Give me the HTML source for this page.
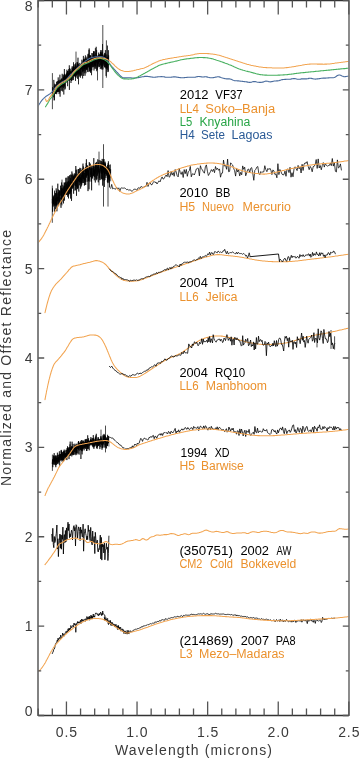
<!DOCTYPE html>
<html><head><meta charset="utf-8"><style>
html,body{margin:0;padding:0;background:#fff;width:359px;height:759px;overflow:hidden}
svg{display:block;will-change:transform}
</style></head><body>
<svg width="359" height="759" viewBox="0 0 359 759">
<g fill="none" stroke-linejoin="round" stroke-linecap="round">
<path d="M52.4 73.5 V108.8 M76.0 52.0 V66.0 M102.8 25.4 V87.6 M106.4 40.7 V77.3 M97.5 62.0 V80.0 M52.3 186.0 V222.4 M103.5 144.6 V206.2 M108.0 175.0 V206.2 M99.0 152.0 V185.0 M62.0 180.0 V205.0 M52.4 455.0 V470.5 M105.5 426.0 V452.0 M101.0 430.0 V447.0 M334.6 336.7 V349.2 M331.0 330.4 V348.5 M317.0 334.0 V347.0" stroke="#000" stroke-width="0.7"/>
<path d="M52.3 94.5L52.4 96.5L52.4 94.3L52.5 87.2L52.6 96.7L52.6 94.6L52.7 90.3L52.7 95.1L52.8 94.1L52.9 93.8L52.9 92.6L53.0 94.7L53.1 89.1L53.1 91.6L53.2 90.1L53.2 94.7L53.3 92.3L53.4 90.8L53.4 88.6L53.5 90.8L53.6 91.9L53.6 90.6L53.7 97.3L53.7 96.0L53.8 79.9L53.9 83.4L53.9 90.8L54.0 89.6L54.1 92.3L54.1 92.3L54.2 100.5L54.2 86.4L54.3 89.5L54.4 100.0L54.4 93.9L54.5 93.9L54.6 88.7L54.6 83.7L54.7 91.5L54.7 91.2L54.8 85.4L54.9 87.7L54.9 90.3L55.0 86.4L55.1 90.0L55.1 90.8L55.2 90.5L55.2 88.1L55.3 92.8L55.4 94.0L55.4 91.5L55.5 86.5L55.6 93.1L55.6 87.7L55.7 93.7L55.7 85.1L55.8 93.7L55.9 89.6L55.9 84.2L56.0 88.2L56.1 89.7L56.1 90.6L56.2 85.1L56.2 84.5L56.3 90.1L56.4 87.1L56.4 90.1L56.5 92.3L56.6 81.8L56.6 90.0L56.7 94.2L56.7 87.5L56.8 85.2L56.9 91.9L56.9 89.7L57.0 92.4L57.1 87.0L57.1 81.9L57.2 87.9L57.2 86.3L57.3 91.6L57.4 89.0L57.4 81.0L57.5 82.8L57.6 91.8L57.6 90.9L57.7 85.0L57.7 87.8L57.8 89.6L57.9 89.7L57.9 91.4L58.0 88.6L58.1 87.0L58.1 86.3L58.2 91.9L58.2 77.4L58.3 86.6L58.4 87.3L58.4 80.8L58.5 88.5L58.6 84.1L58.6 90.7L58.7 86.3L58.7 89.7L58.8 92.0L58.9 88.3L58.9 82.7L59.0 79.9L59.1 94.1L59.1 85.9L59.2 83.3L59.2 86.9L59.3 85.4L59.4 89.9L59.4 86.2L59.5 86.1L59.6 82.8L59.6 87.9L59.7 81.3L59.7 88.7L59.8 92.4L59.9 78.9L59.9 74.7L60.0 88.2L60.1 96.7L60.1 81.0L60.2 79.8L60.2 87.8L60.3 81.5L60.4 82.9L60.4 83.5L60.5 87.3L60.6 83.1L60.6 86.1L60.7 84.0L60.8 81.0L60.8 83.3L60.9 80.4L60.9 84.6L61.0 79.5L61.1 79.6L61.1 90.8L61.2 84.1L61.3 84.0L61.3 86.4L61.4 82.2L61.4 83.0L61.5 85.8L61.6 85.1L61.6 78.7L61.7 87.4L61.8 81.1L61.8 79.0L61.9 79.6L61.9 81.8L62.0 90.6L62.1 78.2L62.1 84.0L62.2 73.8L62.3 83.2L62.3 87.1L62.4 82.0L62.4 80.2L62.5 84.0L62.6 86.0L62.6 85.7L62.7 91.5L62.8 83.6L62.8 80.0L62.9 82.0L62.9 82.2L63.0 82.9L63.1 82.2L63.1 83.1L63.2 74.8L63.3 85.9L63.3 79.6L63.4 76.8L63.4 84.8L63.5 87.8L63.6 84.1L63.6 82.5L63.7 77.6L63.8 94.5L63.8 85.5L63.9 76.5L63.9 78.0L64.0 81.8L64.1 74.5L64.1 82.1L64.2 79.2L64.3 86.7L64.3 85.4L64.4 69.0L64.4 81.2L64.5 73.8L64.6 85.9L64.6 81.6L64.7 83.2L64.8 76.0L64.8 88.8L64.9 89.6L64.9 75.8L65.0 82.2L65.1 77.4L65.1 80.3L65.2 74.7L65.3 88.6L65.3 75.9L65.4 78.8L65.4 82.3L65.5 77.1L65.6 78.9L65.6 77.4L65.7 79.2L65.8 74.6L65.8 77.8L65.9 78.7L65.9 78.1L66.0 79.8L66.1 78.2L66.1 82.8L66.2 77.9L66.3 78.7L66.3 76.3L66.4 76.8L66.4 73.5L66.5 81.4L66.6 73.9L66.6 75.6L66.7 80.5L66.8 80.6L66.8 77.0L66.9 69.7L66.9 80.5L67.0 79.8L67.1 72.2L67.1 81.9L67.2 75.3L67.3 73.3L67.3 78.7L67.4 77.4L67.4 79.1L67.5 70.9L67.6 86.2L67.6 75.3L67.7 71.0L67.8 80.7L67.8 76.2L67.9 79.2L67.9 76.2L68.0 77.4L68.1 78.7L68.1 74.2L68.2 80.5L68.3 75.3L68.3 73.4L68.4 77.7L68.5 79.3L68.5 76.2L68.6 73.2L68.6 79.9L68.7 69.1L68.8 72.3L68.8 77.1L68.9 70.7L69.0 76.9L69.0 76.5L69.1 80.7L69.1 72.5L69.2 73.7L69.3 78.0L69.3 65.3L69.4 89.9L69.5 73.2L69.5 73.0L69.6 80.1L69.6 76.0L69.7 68.0L69.8 78.9L69.8 79.8L69.9 73.9L70.0 74.6L70.0 78.0L70.1 71.6L70.1 77.7L70.2 76.5L70.3 72.5L70.3 69.2L70.4 74.4L70.5 71.4L70.5 79.9L70.6 75.9L70.6 78.8L70.7 75.8L70.8 76.3L70.8 71.5L70.9 78.0L71.0 83.0L71.0 73.5L71.1 72.1L71.1 74.1L71.2 72.5L71.3 71.5L71.3 75.2L71.4 73.2L71.5 81.0L71.5 74.4L71.6 75.8L71.6 78.6L71.7 72.9L71.8 80.7L71.8 71.3L71.9 70.4L72.0 72.4L72.0 73.5L72.1 67.6L72.1 73.7L72.2 66.2L72.3 80.1L72.3 73.3L72.4 70.7L72.5 69.5L72.5 71.8L72.6 72.5L72.6 68.7L72.7 69.2L72.8 72.5L72.8 70.9L72.9 77.5L73.0 78.4L73.0 73.2L73.1 75.2L73.1 66.9L73.2 75.9L73.3 72.8L73.3 75.1L73.4 80.1L73.5 62.3L73.5 73.9L73.6 67.6L73.6 75.3L73.7 66.5L73.8 70.2L73.8 73.4L73.9 75.2L74.0 72.7L74.0 68.7L74.1 69.7L74.1 76.2L74.2 72.1L74.3 64.4L74.3 75.9L74.4 73.9L74.5 75.9L74.5 70.3L74.6 75.6L74.6 66.9L74.7 74.3L74.8 69.4L74.8 74.7L74.9 76.2L75.0 68.2L75.0 71.2L75.1 71.6L75.1 76.8L75.2 74.6L75.3 65.7L75.3 73.3L75.4 74.6L75.5 80.9L75.5 63.4L75.6 68.6L75.6 77.1L75.7 64.7L75.8 65.4L75.8 73.2L75.9 75.5L76.0 67.7L76.0 73.2L76.1 71.2L76.1 77.6L76.2 70.6L76.3 75.1L76.3 66.3L76.4 69.6L76.5 70.0L76.5 75.6L76.6 73.0L76.7 66.8L76.7 73.4L76.8 73.7L76.8 69.6L76.9 68.9L77.0 69.2L77.0 62.2L77.1 70.8L77.2 71.0L77.2 65.9L77.3 73.3L77.3 63.5L77.4 67.2L77.5 67.5L77.5 78.8L77.6 62.2L77.7 72.2L77.7 73.9L77.8 71.2L77.8 74.9L77.9 64.8L78.0 57.7L78.0 72.9L78.1 63.8L78.2 67.7L78.2 63.7L78.3 74.0L78.3 73.1L78.4 65.7L78.5 84.3L78.5 69.6L78.6 68.3L78.7 69.2L78.7 67.9L78.8 71.7L78.8 70.2L78.9 67.1L79.0 73.4L79.0 65.8L79.1 70.0L79.2 70.5L79.2 75.4L79.3 66.2L79.3 76.6L79.4 69.2L79.5 67.5L79.5 65.2L79.6 69.3L79.7 68.5L79.7 63.1L79.8 62.9L79.8 65.6L79.9 65.0L80.0 73.1L80.0 74.4L80.1 72.0L80.2 69.6L80.2 65.9L80.3 68.1L80.3 71.9L80.4 77.7L80.5 72.0L80.5 66.4L80.6 67.8L80.7 65.4L80.7 63.9L80.8 66.7L80.8 68.4L80.9 76.0L81.0 67.7L81.0 73.7L81.1 75.6L81.2 67.7L81.2 74.8L81.3 70.6L81.3 65.3L81.4 68.4L81.5 67.2L81.5 66.0L81.6 66.1L81.7 67.7L81.7 69.0L81.8 62.8L81.8 66.9L81.9 59.7L82.0 68.0L82.0 69.7L82.1 67.5L82.2 68.0L82.2 69.4L82.3 63.5L82.3 65.5L82.4 68.9L82.5 71.2L82.5 68.3L82.6 78.4L82.7 66.0L82.7 71.0L82.8 72.3L82.8 65.7L82.9 62.4L83.0 60.7L83.0 66.9L83.1 71.3L83.2 67.4L83.2 66.9L83.3 64.2L83.3 68.6L83.4 55.9L83.5 67.0L83.5 66.0L83.6 59.4L83.7 76.0L83.7 59.2L83.8 60.7L83.8 60.0L83.9 70.9L84.0 61.4L84.0 68.7L84.1 68.3L84.2 66.7L84.2 59.3L84.3 62.5L84.3 73.3L84.4 59.3L84.5 61.4L84.5 64.5L84.6 69.0L84.7 66.4L84.7 68.7L84.8 60.1L84.9 69.5L84.9 67.7L85.0 57.5L85.0 72.2L85.1 75.7L85.2 61.3L85.2 65.1L85.3 71.4L85.4 57.8L85.4 55.4L85.5 58.6L85.5 62.0L85.6 61.9L85.7 67.5L85.7 65.8L85.8 58.6L85.9 67.2L85.9 73.3L86.0 70.1L86.0 69.0L86.1 64.4L86.2 68.9L86.2 59.7L86.3 67.7L86.4 63.7L86.4 69.5L86.5 66.3L86.5 58.9L86.6 64.6L86.7 69.7L86.7 58.6L86.8 61.2L86.9 60.2L86.9 56.7L87.0 68.3L87.0 69.9L87.1 67.5L87.2 64.8L87.2 63.4L87.3 64.7L87.4 60.1L87.4 67.7L87.5 68.4L87.5 67.8L87.6 60.9L87.7 63.7L87.7 62.5L87.8 71.8L87.9 64.1L87.9 54.3L88.0 65.1L88.0 72.1L88.1 66.4L88.2 67.3L88.2 63.2L88.3 53.7L88.4 54.4L88.4 57.1L88.5 62.4L88.5 64.4L88.6 66.2L88.7 61.3L88.7 67.4L88.8 61.5L88.9 59.5L88.9 66.9L89.0 58.4L89.0 49.8L89.1 57.7L89.2 63.2L89.2 48.4L89.3 61.0L89.4 61.1L89.4 55.9L89.5 55.6L89.5 71.3L89.6 60.0L89.7 68.6L89.7 69.0L89.8 55.0L89.9 58.5L89.9 65.9L90.0 71.6L90.0 64.3L90.1 64.0L90.2 71.3L90.2 62.3L90.3 60.9L90.4 55.7L90.4 59.9L90.5 72.8L90.5 55.6L90.6 62.4L90.7 55.6L90.7 62.9L90.8 66.6L90.9 61.1L90.9 65.8L91.0 65.7L91.0 64.4L91.1 70.5L91.2 66.0L91.2 60.7L91.3 58.9L91.4 58.1L91.4 64.4L91.5 60.6L91.5 75.2L91.6 71.0L91.7 61.1L91.7 60.5L91.8 70.2L91.9 53.0L91.9 59.9L92.0 65.4L92.0 57.7L92.1 59.7L92.2 60.3L92.2 65.2L92.3 62.7L92.4 63.9L92.4 64.8L92.5 62.1L92.5 67.3L92.6 58.4L92.7 55.0L92.7 53.4L92.8 54.1L92.9 59.2L92.9 66.8L93.0 62.7L93.1 59.0L93.1 56.7L93.2 59.3L93.2 59.9L93.3 61.3L93.4 54.9L93.4 59.5L93.5 66.7L93.6 51.3L93.6 60.6L93.7 51.5L93.7 62.6L93.8 58.1L93.9 51.7L93.9 62.2L94.0 70.5L94.1 62.2L94.1 67.3L94.2 61.3L94.2 51.3L94.3 64.0L94.4 59.6L94.4 54.6L94.5 65.4L94.6 63.0L94.6 59.1L94.7 65.8L94.7 57.4L94.8 64.7L94.9 57.0L94.9 64.2L95.0 56.2L95.1 68.8L95.1 62.8L95.2 68.5L95.2 57.5L95.3 59.2L95.4 65.6L95.4 48.2L95.5 56.3L95.6 66.5L95.6 63.7L95.7 66.2L95.7 60.0L95.8 64.2L95.9 57.9L95.9 54.8L96.0 53.2L96.1 58.7L96.1 58.7L96.2 58.3L96.2 46.8L96.3 51.7L96.4 58.8L96.4 62.8L96.5 58.6L96.6 57.1L96.6 50.1L96.7 71.2L96.7 56.0L96.8 69.5L96.9 68.9L96.9 62.6L97.0 58.5L97.1 61.9L97.1 55.7L97.2 62.5L97.2 61.3L97.3 63.9L97.4 65.9L97.4 69.7L97.5 59.4L97.6 66.3L97.6 57.4L97.7 56.9L97.7 58.2L97.8 56.4L97.9 66.0L97.9 65.7L98.0 67.4L98.1 61.1L98.1 62.5L98.2 58.3L98.2 55.5L98.3 63.3L98.4 62.5L98.4 55.7L98.5 64.0L98.6 52.6L98.6 60.3L98.7 58.0L98.7 58.5L98.8 55.8L98.9 65.8L98.9 63.9L99.0 66.9L99.1 61.7L99.1 54.7L99.2 59.2L99.2 55.2L99.3 63.2L99.4 66.9L99.4 62.6L99.5 58.0L99.6 59.2L99.6 62.0L99.7 53.9L99.7 61.7L99.8 61.9L99.9 58.3L99.9 58.9L100.0 61.8L100.1 56.9L100.1 56.9L100.2 64.7L100.2 62.0L100.3 69.1L100.4 56.0L100.4 52.1L100.5 65.5L100.6 65.5L100.6 57.2L100.7 53.6L100.8 60.6L100.8 52.2L100.9 59.1L100.9 50.1L101.0 59.6L101.1 50.4L101.1 59.6L101.2 68.2L101.3 59.4L101.3 64.5L101.4 57.6L101.4 56.4L101.5 53.4L101.6 65.8L101.6 60.4L101.7 68.7L101.8 54.9L101.8 59.6L101.9 61.1L101.9 67.6L102.0 69.7L102.1 57.5L102.1 55.1L102.2 52.1L102.3 67.2L102.3 60.2L102.4 57.5L102.4 60.4L102.5 44.0L102.6 52.1L102.6 65.3L102.7 62.6L102.8 61.4L102.8 55.7L102.9 63.5L102.9 69.4L103.0 54.6L103.1 60.7L103.1 58.5L103.2 62.4L103.3 60.7L103.3 59.9L103.4 56.3L103.4 60.5L103.5 57.6L103.6 59.9L103.6 60.3L103.7 63.9L103.8 57.7L103.8 59.0L103.9 65.9L103.9 59.5L104.0 59.3L104.1 64.9L104.1 62.0L104.2 61.1L104.3 61.7L104.3 54.5L104.4 62.9L104.4 67.2L104.5 63.5L104.6 52.9L104.6 62.1L104.7 56.2L104.8 59.5L104.8 61.3L104.9 54.8L104.9 67.3L105.0 60.4L105.1 64.6L105.1 63.9L105.2 67.4L105.3 66.6L105.3 53.4L105.4 60.9L105.4 50.1L105.5 58.5L105.6 64.3L105.6 65.3L105.7 67.2L105.8 58.9L105.8 62.3L105.9 61.2L105.9 67.1L106.0 68.7L106.1 59.0L106.1 75.9L106.2 60.8L106.3 59.0L106.3 63.8L106.4 64.6L106.4 63.5L106.5 57.6L106.6 68.1L106.6 61.1L106.7 68.5L106.8 67.8L106.8 54.5L106.9 55.9L106.9 55.9L107.0 62.1L107.1 61.1L107.1 62.2L107.2 56.8L107.3 63.0L107.3 67.9L107.4 45.6L107.4 59.9L107.5 62.1L107.6 60.2L107.6 59.9L107.7 69.7L107.8 67.3L107.8 65.1L107.9 57.1L107.9 72.1L108.0 62.7L108.1 58.0L108.1 59.2L108.2 58.5L108.3 71.5L108.3 62.0L108.4 61.2L108.4 50.2L108.5 64.6L108.6 55.6L108.6 55.3L108.7 64.0" stroke="#000" stroke-width="0.6"/>
<path d="M38.2 106.0L38.5 105.5L38.9 104.8L39.4 104.0L40.0 103.1L40.5 102.2L41.1 101.4L41.6 100.7L42.3 99.9L42.9 99.2L43.6 98.6L44.2 97.9L44.9 97.3L45.6 96.7L46.2 96.2L46.9 95.8L47.6 95.3L48.3 94.9L48.9 94.5L49.5 94.1L50.2 93.7L50.8 93.1L51.5 92.5L52.2 91.8L52.7 91.2L53.2 90.6L53.7 89.9L54.2 89.2L54.7 88.4L55.2 87.8L55.7 87.2L56.2 86.6L56.7 86.1L57.4 85.5L58.2 84.9L58.9 84.3L59.6 83.8L60.4 83.2L61.1 82.6L61.8 82.1L62.6 81.7L63.3 81.3L64.1 81.0L64.8 80.6L65.6 80.2L66.2 79.6L66.9 79.0L67.5 78.2L68.2 77.4L68.8 76.6L69.5 75.8L70.1 75.1L70.7 74.5L71.2 74.0L71.8 73.6L72.3 73.1L72.8 72.7L73.4 72.2L73.9 71.7L74.5 71.1L75.1 70.4L75.8 69.7L76.4 69.0L77.1 68.2L77.7 67.6L78.4 67.0L79.0 66.5L79.6 66.0L80.3 65.5L80.9 65.0L81.5 64.5L82.1 64.0L82.8 63.4L83.4 62.8L84.1 62.2L84.9 61.6L85.6 60.9L86.4 60.4L87.2 59.9L88.0 59.3L88.7 58.9L89.5 58.5L90.3 58.1L91.2 57.8L92.0 57.5L92.8 57.3L93.6 57.2L94.5 57.0L95.5 56.9L96.5 56.9L97.4 56.9L98.3 56.9L99.1 56.8L100.1 56.7L100.9 56.6L101.7 56.7L102.5 56.9L103.3 57.2L104.1 57.6L105.0 58.1L105.8 58.8L106.4 59.4L106.9 60.0L107.5 60.8L108.1 61.5L108.6 62.3L109.2 63.1L109.8 63.8L110.3 64.6L110.9 65.3L111.4 66.0L111.9 66.6L112.5 67.2L113.1 67.9L113.6 68.5L114.2 69.2L114.8 69.8L115.3 70.5L115.9 71.1L116.6 71.8L117.2 72.5L117.9 73.2L118.5 73.9L119.2 74.6L120.0 75.5L120.8 76.3L121.7 77.0L122.5 77.5L123.4 77.8L124.3 77.9L125.1 77.9L125.9 77.9L126.9 77.9L128.0 77.8L128.7 77.7L129.5 77.7L130.4 77.7L131.5 77.9L132.6 78.0L133.3 78.1L134.0 78.1L134.8 78.0L135.6 78.0L136.4 77.9L137.2 77.8L138.1 77.6L139.0 77.5L140.0 77.3L140.7 77.1L141.5 77.0L142.3 76.8L143.0 76.7L143.8 76.6L144.7 76.4L145.5 76.4L146.4 76.3L147.2 76.4L148.1 76.5L149.1 76.6L150.0 76.8L150.8 76.9L151.6 77.0L152.4 77.1L153.2 77.2L154.0 77.2L154.9 77.2L155.8 77.1L156.6 77.0L157.5 76.9L158.4 76.8L159.3 76.7L160.1 76.7L161.0 76.6L161.9 76.6L162.7 76.7L163.5 76.8L164.4 76.9L165.2 77.1L166.0 77.2L166.8 77.2L167.6 77.3L168.4 77.3L169.2 77.3L170.0 77.3L170.9 77.2L171.7 77.1L172.6 77.0L173.4 76.9L174.3 76.8L175.2 76.9L176.0 77.0L176.8 77.1L177.6 77.3L178.4 77.4L179.3 77.5L180.1 77.6L181.0 77.7L181.9 77.8L182.8 77.8L183.6 77.7L184.5 77.6L185.3 77.5L186.2 77.5L187.0 77.4L187.8 77.3L188.6 77.3L189.3 77.2L190.0 77.2L191.0 77.2L191.9 77.3L192.8 77.3L193.7 77.3L194.5 77.2L195.3 77.1L196.1 76.9L196.8 76.7L197.6 76.6L198.4 76.5L199.2 76.5L200.0 76.6L200.8 76.8L201.7 76.9L202.5 77.0L203.3 77.0L204.2 76.9L205.0 76.8L205.8 76.8L206.7 76.9L207.5 77.1L208.3 77.3L209.2 77.5L210.0 77.7L210.8 77.7L211.7 77.7L212.5 77.7L213.3 77.6L214.2 77.5L215.0 77.3L215.8 77.1L216.7 77.0L217.5 76.8L218.3 76.8L219.2 76.9L220.0 77.1L220.8 77.4L221.7 77.7L222.5 78.0L223.4 78.2L224.2 78.4L225.1 78.6L225.9 78.7L226.7 78.9L227.6 78.9L228.4 78.9L229.3 78.9L230.1 79.0L230.9 79.2L231.8 79.6L232.6 80.0L233.4 80.3L234.3 80.6L235.1 80.7L235.9 80.8L236.8 80.8L237.6 80.9L238.4 80.9L239.3 81.0L240.1 81.1L240.9 81.2L241.8 81.3L242.6 81.4L243.4 81.5L244.3 81.6L245.1 81.7L245.9 81.8L246.8 81.9L247.6 82.1L248.4 82.3L249.3 82.4L250.1 82.4L250.9 82.3L251.8 82.1L252.6 81.8L253.5 81.6L254.3 81.5L255.2 81.6L256.0 81.8L256.8 82.0L257.7 82.2L258.5 82.3L259.4 82.4L260.2 82.4L261.0 82.4L261.9 82.3L262.7 82.1L263.5 81.9L264.4 81.6L265.2 81.3L266.1 81.1L266.9 81.2L267.7 81.3L268.5 81.6L269.4 81.8L270.2 81.9L271.0 81.8L271.8 81.6L272.7 81.4L273.5 81.2L274.3 81.0L275.1 81.0L275.9 81.0L276.7 80.9L277.5 80.9L278.4 80.8L279.2 80.6L280.0 80.3L280.8 80.1L281.6 79.8L282.5 79.6L283.3 79.5L284.1 79.5L284.9 79.4L285.8 79.4L286.6 79.3L287.4 79.3L288.2 79.2L289.1 79.2L289.9 79.2L290.7 79.1L291.5 78.9L292.4 78.7L293.2 78.6L294.0 78.5L294.8 78.6L295.7 78.8L296.5 79.0L297.3 79.2L298.1 79.3L299.0 79.3L299.8 79.2L300.6 79.1L301.4 78.9L302.3 78.9L303.1 78.8L303.9 78.9L304.8 78.9L305.6 78.9L306.4 78.9L307.2 78.7L308.1 78.6L308.9 78.4L309.7 78.3L310.5 78.3L311.3 78.4L312.2 78.6L313.0 78.8L313.8 79.0L314.6 79.0L315.5 79.1L316.3 79.0L317.1 78.9L317.9 78.9L318.8 78.8L319.6 78.6L320.4 78.5L321.3 78.3L322.2 78.2L323.0 78.1L323.9 78.1L324.8 78.1L325.6 78.1L326.5 78.0L327.3 78.0L328.1 77.9L328.9 77.9L329.6 77.8L330.6 77.8L331.5 77.8L332.4 77.7L333.3 77.7L334.1 77.5L334.9 77.2L335.7 76.7L336.4 76.2L337.0 75.8L338.1 75.2L339.0 75.0L339.7 75.0L340.5 75.2L341.2 75.6L342.0 76.0L342.8 76.3L343.6 76.6L344.4 76.7L345.3 76.6L346.3 76.5L347.3 76.3L348.2 76.2L348.8 76.1" stroke="#4A6C9E" stroke-width="1.1"/>
<path d="M45.5 106.8L45.8 106.3L46.3 105.6L46.8 104.7L47.4 103.9L47.9 103.0L48.3 102.3L48.8 101.4L49.1 100.7L49.5 100.0L49.9 99.3L50.4 98.7L50.9 98.2L51.5 97.6L52.2 96.5L52.5 96.0L52.9 95.3L53.3 94.6L53.7 93.8L54.1 93.0L54.5 92.2L55.0 91.3L55.4 90.5L55.9 89.8L56.3 89.1L56.7 88.5L57.3 87.7L58.0 87.1L58.6 86.5L59.2 86.0L59.8 85.5L60.5 85.1L61.1 84.6L61.8 84.1L62.6 83.6L63.3 83.2L64.1 82.8L64.8 82.3L65.6 81.8L66.2 81.3L66.9 80.8L67.5 80.3L68.2 79.8L68.8 79.2L69.5 78.6L70.1 78.0L70.7 77.4L71.2 76.7L71.8 76.0L72.3 75.3L72.8 74.5L73.4 73.8L73.9 73.1L74.5 72.5L75.1 71.8L75.8 71.2L76.4 70.7L77.1 70.1L77.7 69.6L78.4 69.1L79.0 68.5L79.6 67.9L80.3 67.3L80.9 66.7L81.5 66.1L82.1 65.6L82.8 65.0L83.4 64.6L84.1 64.2L84.9 63.9L85.6 63.6L86.4 63.4L87.2 63.1L88.0 62.8L88.7 62.4L89.5 62.0L90.3 61.6L91.2 61.2L92.0 60.7L92.8 60.3L93.6 60.0L94.4 59.7L95.2 59.4L96.1 59.1L96.9 58.9L97.7 58.7L98.4 58.5L99.1 58.4L100.1 58.3L100.9 58.4L101.7 58.6L102.5 58.9L103.3 59.2L104.1 59.6L105.0 60.0L105.8 60.6L106.5 61.1L107.2 61.7L107.8 62.4L108.5 63.1L109.2 63.9L109.8 64.6L110.3 65.3L110.9 66.1L111.4 66.9L111.9 67.6L112.5 68.4L113.0 69.1L113.5 69.7L114.0 70.4L114.4 71.1L114.9 71.7L115.4 72.3L115.9 72.9L116.6 73.7L117.2 74.4L117.9 75.0L118.5 75.6L119.2 76.2L120.0 76.9L120.8 77.5L121.7 78.0L122.5 78.4L123.3 78.7L124.0 78.9L124.8 78.9L125.9 79.0L126.6 79.0L127.4 79.0L128.2 79.1L129.2 79.0L130.1 79.0L131.0 79.0L131.8 78.9L132.6 78.8L133.5 78.6L134.3 78.4L135.0 78.1L135.8 77.8L136.6 77.4L137.6 77.0L138.2 76.7L138.9 76.3L139.7 76.0L140.4 75.6L141.2 75.1L142.0 74.7L142.8 74.3L143.6 73.8L144.3 73.4L145.1 73.0L145.8 72.6L146.6 72.2L147.3 71.7L148.1 71.3L148.8 70.9L149.6 70.5L150.3 70.0L151.1 69.6L151.8 69.2L152.6 68.8L153.4 68.4L154.1 68.0L154.9 67.6L155.6 67.2L156.4 66.8L157.2 66.4L157.9 66.0L158.7 65.6L159.4 65.3L160.2 65.0L161.0 64.7L161.9 64.4L162.7 64.2L163.5 64.0L164.4 63.8L165.2 63.6L166.0 63.4L166.9 63.2L167.7 63.0L168.5 62.8L169.4 62.6L170.2 62.4L171.0 62.2L171.9 62.0L172.7 61.9L173.5 61.7L174.4 61.5L175.2 61.3L176.0 61.1L176.9 60.9L177.7 60.7L178.5 60.5L179.4 60.3L180.2 60.0L181.0 59.8L181.9 59.7L182.7 59.5L183.5 59.4L184.3 59.2L185.0 59.1L185.8 59.0L186.6 58.9L187.4 58.8L188.2 58.7L189.1 58.6L190.0 58.5L190.7 58.4L191.5 58.3L192.3 58.2L193.1 58.1L194.0 58.0L194.8 57.9L195.7 57.8L196.6 57.7L197.4 57.6L198.3 57.6L199.2 57.5L200.0 57.5L200.8 57.5L201.7 57.5L202.5 57.5L203.3 57.6L204.2 57.6L205.0 57.6L205.8 57.7L206.7 57.8L207.5 57.9L208.3 58.0L209.2 58.2L210.0 58.3L210.8 58.5L211.5 58.6L212.3 58.8L213.1 59.0L213.8 59.3L214.6 59.5L215.4 59.7L216.1 60.0L216.9 60.3L217.7 60.5L218.5 60.8L219.2 61.0L220.0 61.3L220.8 61.6L221.5 61.8L222.3 62.1L223.1 62.4L223.9 62.6L224.7 62.9L225.4 63.2L226.2 63.5L227.0 63.8L227.8 64.1L228.6 64.4L229.3 64.7L230.1 65.0L230.9 65.3L231.6 65.6L232.4 66.0L233.2 66.3L234.0 66.7L234.7 67.0L235.5 67.4L236.3 67.7L237.0 68.1L237.8 68.4L238.6 68.7L239.3 69.0L240.1 69.3L240.9 69.6L241.8 69.8L242.6 70.1L243.4 70.3L244.3 70.5L245.1 70.8L245.9 71.0L246.8 71.2L247.6 71.4L248.4 71.6L249.3 71.8L250.1 72.0L250.9 72.2L251.6 72.4L252.4 72.6L253.2 72.9L254.0 73.1L254.8 73.3L255.5 73.5L256.3 73.8L257.1 74.0L257.9 74.1L258.7 74.3L259.4 74.5L260.2 74.6L261.0 74.7L261.8 74.8L262.6 74.9L263.4 75.0L264.1 75.0L264.9 75.1L265.7 75.1L266.5 75.1L267.4 75.2L268.3 75.2L269.2 75.2L270.2 75.2L270.9 75.2L271.6 75.2L272.4 75.2L273.1 75.2L273.9 75.2L274.7 75.2L275.6 75.2L276.4 75.2L277.2 75.2L278.1 75.1L279.0 75.1L279.8 75.1L280.7 75.0L281.5 75.0L282.4 75.0L283.2 74.9L284.1 74.9L284.9 74.8L285.7 74.7L286.5 74.7L287.4 74.6L288.2 74.5L289.0 74.4L289.9 74.3L290.7 74.2L291.5 74.1L292.3 74.0L293.2 73.9L294.0 73.7L294.8 73.6L295.7 73.5L296.5 73.4L297.3 73.3L298.1 73.2L299.0 73.1L299.8 73.0L300.6 72.9L301.5 72.8L302.3 72.7L303.2 72.6L304.0 72.6L304.9 72.5L305.7 72.4L306.6 72.3L307.4 72.2L308.3 72.1L309.1 72.0L309.9 72.0L310.7 71.9L311.6 71.8L312.4 71.7L313.2 71.7L313.9 71.6L314.7 71.5L315.6 71.4L316.5 71.3L317.3 71.2L318.1 71.2L319.0 71.1L319.8 71.0L320.6 70.9L321.4 70.8L322.2 70.8L322.9 70.7L323.7 70.6L324.5 70.5L325.3 70.5L326.2 70.4L327.0 70.3L327.8 70.2L328.6 70.1L329.5 70.1L330.3 70.0L331.2 69.9L332.0 69.8L332.9 69.7L333.7 69.6L334.6 69.5L335.4 69.5L336.2 69.4L337.0 69.3L337.8 69.2L338.6 69.1L339.3 69.1L340.0 69.0L341.0 68.9L342.0 68.8L342.9 68.7L343.9 68.6L344.8 68.6L345.6 68.5L346.4 68.4L347.1 68.3L347.8 68.3L348.3 68.2L348.8 68.2" stroke="#48B060" stroke-width="1.1"/>
<path d="M45.5 99.0L45.8 99.8L46.1 100.9L46.6 101.5L47.5 101.1L48.3 100.1L48.7 99.4L49.1 98.6L49.4 97.9L49.9 97.1L50.5 96.2L50.9 95.8L51.4 95.3L52.0 94.7L52.7 93.8L53.1 93.2L53.5 92.5L53.9 91.7L54.3 90.9L54.8 90.0L55.3 89.2L55.7 88.4L56.2 87.6L56.7 87.0L57.3 86.3L57.9 85.7L58.6 85.2L59.2 84.7L59.8 84.3L60.5 83.8L61.1 83.4L61.8 82.9L62.6 82.4L63.3 82.0L64.1 81.6L64.8 81.1L65.6 80.6L66.2 80.1L66.9 79.6L67.5 79.1L68.2 78.5L68.8 78.0L69.5 77.4L70.1 76.7L70.7 76.1L71.2 75.4L71.8 74.7L72.3 74.0L72.8 73.2L73.4 72.5L73.9 71.8L74.5 71.2L75.1 70.6L75.8 70.0L76.4 69.4L77.1 68.9L77.7 68.4L78.4 67.8L79.0 67.3L79.6 66.7L80.3 66.1L80.9 65.5L81.5 64.9L82.1 64.4L82.8 63.8L83.4 63.4L84.1 63.0L84.9 62.7L85.6 62.5L86.4 62.3L87.2 62.0L88.0 61.7L88.7 61.3L89.5 60.9L90.3 60.5L91.2 60.0L92.0 59.6L92.8 59.2L93.6 58.9L94.4 58.6L95.2 58.4L96.1 58.2L96.9 58.1L97.7 58.0L98.4 57.9L99.1 57.8L100.1 57.8L100.9 57.8L101.7 58.0L102.5 58.1L103.3 58.2L104.1 58.4L105.0 58.6L105.8 58.9L106.6 59.2L107.5 59.6L108.4 60.1L109.2 60.6L109.9 61.1L110.5 61.6L111.2 62.2L111.8 62.8L112.5 63.4L113.2 64.0L113.9 64.7L114.5 65.4L115.2 66.1L115.9 66.7L116.6 67.3L117.2 67.8L117.9 68.4L118.5 68.9L119.2 69.3L120.0 69.8L120.8 70.2L121.7 70.5L122.5 70.8L123.3 71.1L124.1 71.3L125.0 71.4L125.9 71.5L126.6 71.5L127.3 71.6L128.1 71.5L128.9 71.5L130.0 71.3L130.7 71.2L131.5 71.0L132.3 70.9L133.1 70.7L134.0 70.5L134.9 70.2L135.9 70.0L136.7 69.8L137.6 69.6L138.4 69.4L139.3 69.2L140.1 69.0L140.9 68.8L141.8 68.6L142.6 68.4L143.4 68.2L144.3 67.9L145.1 67.6L145.8 67.3L146.6 66.9L147.3 66.6L148.1 66.2L148.8 65.8L149.6 65.4L150.3 65.0L151.1 64.6L151.8 64.2L152.6 63.8L153.4 63.4L154.1 63.1L154.9 62.7L155.6 62.4L156.4 62.0L157.2 61.7L157.9 61.4L158.7 61.0L159.4 60.8L160.2 60.5L161.0 60.2L161.9 60.0L162.7 59.8L163.5 59.6L164.4 59.4L165.2 59.3L166.0 59.1L166.9 59.0L167.7 58.8L168.5 58.6L169.4 58.5L170.2 58.3L171.0 58.2L171.9 58.0L172.7 57.9L173.5 57.8L174.4 57.6L175.2 57.5L176.0 57.4L176.9 57.2L177.7 57.1L178.5 56.9L179.4 56.8L180.2 56.7L181.0 56.6L181.9 56.4L182.7 56.3L183.5 56.2L184.3 56.1L185.0 56.0L185.8 55.9L186.6 55.8L187.4 55.7L188.2 55.6L189.1 55.4L190.0 55.3L190.7 55.2L191.5 55.0L192.3 54.9L193.1 54.7L194.0 54.5L194.8 54.3L195.7 54.1L196.6 54.0L197.4 53.8L198.3 53.7L199.2 53.6L200.0 53.5L200.8 53.4L201.7 53.4L202.5 53.4L203.3 53.4L204.2 53.4L205.0 53.4L205.8 53.5L206.7 53.5L207.5 53.6L208.3 53.6L209.2 53.7L210.0 53.8L210.8 53.9L211.7 54.0L212.5 54.1L213.3 54.2L214.2 54.3L215.0 54.5L215.8 54.6L216.7 54.8L217.5 54.9L218.3 55.1L219.2 55.3L220.0 55.5L220.8 55.7L221.5 55.9L222.3 56.2L223.1 56.4L223.9 56.7L224.7 56.9L225.4 57.2L226.2 57.5L227.0 57.7L227.8 58.0L228.6 58.3L229.3 58.5L230.1 58.8L230.9 59.0L231.6 59.3L232.4 59.5L233.2 59.8L234.0 60.0L234.7 60.3L235.5 60.5L236.3 60.8L237.0 61.0L237.8 61.3L238.6 61.5L239.3 61.8L240.1 62.0L240.9 62.2L241.6 62.5L242.4 62.7L243.2 63.0L243.9 63.2L244.7 63.5L245.5 63.7L246.2 63.9L247.0 64.2L247.8 64.4L248.6 64.6L249.3 64.8L250.1 65.0L250.9 65.2L251.8 65.4L252.6 65.6L253.5 65.8L254.3 66.0L255.2 66.1L256.0 66.3L256.8 66.5L257.7 66.6L258.5 66.7L259.4 66.9L260.2 67.0L261.0 67.1L261.8 67.2L262.6 67.3L263.4 67.4L264.1 67.5L264.9 67.5L265.7 67.6L266.5 67.6L267.4 67.7L268.3 67.7L269.2 67.8L270.2 67.8L270.9 67.8L271.6 67.8L272.4 67.9L273.1 67.9L273.9 67.9L274.7 67.9L275.6 68.0L276.4 68.0L277.2 68.0L278.1 68.0L279.0 68.0L279.8 68.0L280.7 68.0L281.5 68.0L282.4 67.9L283.2 67.9L284.1 67.9L284.9 67.8L285.7 67.7L286.6 67.6L287.4 67.6L288.3 67.4L289.2 67.3L290.0 67.2L290.9 67.1L291.8 66.9L292.6 66.8L293.5 66.7L294.4 66.5L295.2 66.4L296.0 66.2L296.8 66.1L297.6 66.0L298.4 65.8L299.1 65.7L299.8 65.6L300.8 65.4L301.7 65.3L302.5 65.1L303.2 65.0L303.9 64.8L304.6 64.7L305.3 64.6L306.0 64.5L306.8 64.4L307.7 64.3L308.6 64.2L309.7 64.1L310.4 64.1L311.1 64.0L311.8 64.0L312.6 64.0L313.5 64.0L314.3 64.0L315.2 64.0L316.1 64.0L317.0 64.1L317.9 64.1L318.8 64.1L319.7 64.1L320.6 64.1L321.5 64.1L322.4 64.1L323.2 64.2L324.1 64.2L324.8 64.1L325.6 64.1L326.3 64.1L327.0 64.1L328.1 64.0L329.1 64.0L330.0 63.9L330.8 63.8L331.6 63.7L332.3 63.6L333.1 63.5L333.8 63.4L334.5 63.3L335.3 63.1L336.1 63.0L337.0 62.9L337.8 62.8L338.7 62.7L339.6 62.6L340.6 62.4L341.6 62.3L342.6 62.2L343.5 62.0L344.5 61.9L345.4 61.8L346.2 61.7L347.0 61.5L347.7 61.4L348.3 61.4L348.8 61.3" stroke="#F2A450" stroke-width="1.05"/>
<path d="M52.2 203.0L52.3 199.1L52.4 199.6L52.5 188.4L52.5 211.7L52.6 208.0L52.7 199.8L52.8 205.8L52.9 203.0L53.0 198.4L53.0 206.8L53.1 199.6L53.2 199.4L53.3 196.8L53.4 203.6L53.5 200.5L53.5 204.0L53.6 197.6L53.7 201.6L53.8 195.9L53.9 205.4L54.0 201.7L54.0 202.4L54.1 202.8L54.2 194.9L54.3 204.7L54.4 211.7L54.5 191.2L54.5 190.7L54.6 191.8L54.7 204.7L54.8 200.7L54.9 205.9L55.0 203.9L55.0 201.0L55.1 201.3L55.2 198.7L55.3 204.4L55.4 193.3L55.5 197.1L55.5 200.7L55.6 209.3L55.7 195.0L55.8 193.2L55.9 196.0L56.0 204.4L56.0 197.7L56.1 206.2L56.2 188.4L56.3 205.0L56.4 204.4L56.5 190.7L56.5 199.3L56.6 205.2L56.7 198.8L56.8 203.8L56.9 211.3L57.0 199.6L57.0 196.4L57.1 193.6L57.2 201.4L57.3 196.7L57.4 196.7L57.5 197.0L57.5 201.1L57.6 191.5L57.7 188.8L57.8 183.7L57.9 203.8L58.0 197.5L58.0 205.4L58.1 196.8L58.2 192.7L58.3 199.4L58.4 196.2L58.5 189.6L58.5 191.5L58.6 206.2L58.7 198.2L58.8 198.5L58.9 194.6L59.0 192.2L59.0 200.9L59.1 195.3L59.2 191.5L59.3 194.9L59.4 190.6L59.5 196.6L59.5 201.7L59.6 190.7L59.7 203.2L59.8 191.5L59.9 196.0L60.0 190.4L60.0 193.7L60.1 195.1L60.2 192.4L60.3 190.8L60.4 190.9L60.5 190.0L60.5 185.7L60.6 192.9L60.7 196.6L60.8 199.3L60.9 197.8L61.0 207.8L61.0 195.8L61.1 191.4L61.2 204.3L61.3 188.0L61.4 199.1L61.5 188.3L61.5 195.6L61.6 182.5L61.7 198.4L61.8 192.5L61.9 187.9L62.0 201.5L62.0 197.4L62.1 193.3L62.2 188.8L62.3 192.7L62.4 191.9L62.5 196.8L62.5 197.1L62.6 188.9L62.7 189.5L62.8 189.5L62.9 184.8L63.0 189.0L63.0 191.7L63.1 196.0L63.2 199.5L63.3 187.5L63.4 195.0L63.5 189.4L63.5 203.4L63.6 191.4L63.7 194.5L63.8 186.3L63.9 187.0L64.0 192.6L64.1 189.2L64.1 193.3L64.2 182.4L64.3 194.8L64.4 186.0L64.5 200.6L64.6 189.3L64.6 197.0L64.7 182.9L64.8 193.1L64.9 185.6L65.0 187.8L65.1 190.6L65.1 188.6L65.2 191.8L65.3 194.4L65.4 193.8L65.5 189.6L65.6 182.3L65.6 185.4L65.7 188.7L65.8 177.8L65.9 193.9L66.0 188.3L66.1 188.1L66.1 194.8L66.2 193.1L66.3 190.6L66.4 183.6L66.5 190.9L66.6 191.0L66.6 184.0L66.7 194.8L66.8 191.7L66.9 177.7L67.0 189.4L67.1 181.5L67.1 194.9L67.2 193.0L67.3 182.2L67.4 183.3L67.5 188.8L67.6 186.8L67.6 196.7L67.7 192.2L67.8 186.3L67.9 191.1L68.0 176.3L68.1 189.5L68.1 192.5L68.2 186.6L68.3 183.5L68.4 190.6L68.5 198.4L68.6 188.4L68.6 180.9L68.7 195.3L68.8 176.4L68.9 183.2L69.0 183.6L69.1 192.1L69.1 181.9L69.2 194.1L69.3 188.3L69.4 176.8L69.5 175.3L69.6 184.6L69.6 193.6L69.7 187.0L69.8 186.5L69.9 184.8L70.0 190.2L70.1 188.1L70.1 187.5L70.2 180.2L70.3 192.5L70.4 193.4L70.5 178.2L70.6 198.6L70.6 189.6L70.7 182.6L70.8 174.5L70.9 189.0L71.0 188.3L71.1 181.7L71.1 174.9L71.2 191.4L71.3 181.6L71.4 182.2L71.5 200.9L71.6 196.8L71.6 190.1L71.7 182.0L71.8 188.2L71.9 171.5L72.0 185.0L72.1 180.0L72.1 177.0L72.2 175.2L72.3 187.1L72.4 184.6L72.5 184.9L72.6 188.7L72.6 179.1L72.7 176.8L72.8 173.6L72.9 181.8L73.0 187.9L73.1 182.7L73.1 187.1L73.2 176.7L73.3 180.7L73.4 178.9L73.5 176.1L73.6 193.7L73.6 187.9L73.7 178.7L73.8 178.6L73.9 182.5L74.0 174.6L74.1 185.2L74.1 175.3L74.2 180.5L74.3 176.7L74.4 179.7L74.5 174.8L74.6 173.4L74.6 176.8L74.7 178.3L74.8 180.5L74.9 182.5L75.0 190.7L75.1 186.6L75.1 180.4L75.2 185.9L75.3 177.8L75.4 189.9L75.5 184.7L75.6 173.8L75.7 185.8L75.7 186.1L75.8 166.0L75.9 177.0L76.0 178.5L76.1 170.1L76.2 175.0L76.2 175.6L76.3 183.8L76.4 182.5L76.5 195.8L76.6 178.4L76.7 187.2L76.7 181.0L76.8 182.0L76.9 173.8L77.0 169.4L77.1 175.9L77.2 184.5L77.2 189.2L77.3 183.5L77.4 182.8L77.5 175.1L77.6 188.6L77.7 187.5L77.7 176.7L77.8 179.4L77.9 173.9L78.0 187.9L78.1 181.8L78.2 178.8L78.2 181.6L78.3 181.7L78.4 176.8L78.5 172.0L78.6 171.7L78.7 169.0L78.7 181.5L78.8 191.6L78.9 169.0L79.0 179.5L79.1 181.0L79.2 172.9L79.2 179.7L79.3 172.2L79.4 185.3L79.5 174.9L79.6 178.9L79.7 182.2L79.7 175.7L79.8 167.8L79.9 175.0L80.0 182.4L80.1 177.5L80.2 179.2L80.2 171.6L80.3 178.6L80.4 181.9L80.5 177.9L80.6 188.6L80.7 176.4L80.7 171.5L80.8 168.2L80.9 184.0L81.0 177.0L81.1 183.1L81.2 179.9L81.2 186.5L81.3 184.4L81.4 174.9L81.5 178.6L81.6 183.2L81.7 169.8L81.7 185.2L81.8 183.8L81.9 182.4L82.0 175.5L82.1 178.4L82.2 170.2L82.2 176.9L82.3 173.1L82.4 176.9L82.5 173.5L82.6 178.0L82.7 183.1L82.7 168.7L82.8 181.5L82.9 164.6L83.0 163.6L83.1 175.3L83.2 176.0L83.2 178.5L83.3 166.4L83.4 175.5L83.5 176.5L83.6 183.0L83.7 175.1L83.7 178.7L83.8 169.9L83.9 174.4L84.0 172.9L84.1 179.5L84.2 169.7L84.2 170.5L84.3 178.6L84.4 185.6L84.5 177.4L84.6 176.9L84.7 173.1L84.7 181.4L84.8 178.1L84.9 185.0L85.0 176.8L85.1 169.4L85.2 171.5L85.2 169.1L85.3 167.5L85.4 182.0L85.5 179.3L85.6 167.5L85.7 184.9L85.7 176.0L85.8 169.0L85.9 176.7L86.0 174.0L86.1 169.9L86.2 163.1L86.2 174.5L86.3 176.0L86.4 159.3L86.5 177.4L86.6 177.8L86.7 171.4L86.7 174.8L86.8 172.4L86.9 169.2L87.0 171.9L87.1 181.8L87.2 165.5L87.2 175.3L87.3 174.9L87.4 169.7L87.5 171.3L87.6 165.6L87.7 168.8L87.8 173.8L87.8 175.6L87.9 168.4L88.0 191.1L88.1 170.3L88.2 174.3L88.3 172.2L88.3 171.2L88.4 181.1L88.5 170.7L88.6 181.2L88.7 180.1L88.8 167.3L88.8 179.4L88.9 169.6L89.0 189.3L89.1 171.1L89.2 167.8L89.3 162.1L89.3 165.7L89.4 169.8L89.5 167.4L89.6 166.0L89.7 169.1L89.8 171.9L89.8 181.6L89.9 163.2L90.0 169.9L90.1 167.5L90.2 164.2L90.3 165.6L90.3 167.7L90.4 177.2L90.5 171.8L90.6 169.8L90.7 169.0L90.8 174.6L90.8 171.6L90.9 175.1L91.0 168.0L91.1 176.5L91.2 175.6L91.3 170.4L91.3 165.7L91.4 181.6L91.5 173.3L91.6 190.3L91.7 168.9L91.8 177.7L91.8 167.4L91.9 174.2L92.0 177.5L92.1 168.0L92.2 172.0L92.3 173.5L92.3 173.2L92.4 176.1L92.5 178.5L92.6 177.4L92.7 174.1L92.8 170.5L92.8 165.9L92.9 168.2L93.0 169.4L93.1 176.4L93.2 170.3L93.3 165.1L93.3 176.0L93.4 174.8L93.5 167.9L93.6 171.0L93.7 175.1L93.8 158.1L93.8 165.7L93.9 173.3L94.0 170.1L94.1 167.1L94.2 169.0L94.3 180.3L94.3 169.5L94.4 176.3L94.5 176.8L94.6 169.5L94.7 174.7L94.8 169.4L94.8 168.5L94.9 165.4L95.0 177.1L95.1 169.6L95.2 168.7L95.3 165.3L95.3 182.5L95.4 176.2L95.5 171.1L95.6 167.8L95.7 162.8L95.8 173.5L95.8 173.5L95.9 163.5L96.0 178.6L96.1 176.3L96.2 166.0L96.3 168.4L96.3 169.1L96.4 172.6L96.5 170.7L96.6 161.9L96.7 180.2L96.8 173.4L96.8 178.9L96.9 178.9L97.0 170.2L97.1 173.5L97.2 175.8L97.3 175.9L97.3 170.4L97.4 167.7L97.5 174.5L97.6 166.6L97.7 168.0L97.8 159.3L97.8 171.7L97.9 165.2L98.0 167.9L98.1 170.9L98.2 173.0L98.3 182.3L98.3 172.3L98.4 162.7L98.5 171.8L98.6 167.5L98.7 173.4L98.8 166.9L98.8 166.8L98.9 167.9L99.0 167.2L99.1 160.1L99.2 166.9L99.3 170.8L99.4 177.9L99.4 169.1L99.5 168.6L99.6 174.2L99.7 173.9L99.8 180.2L99.9 174.2L99.9 170.6L100.0 178.6L100.1 179.7L100.2 167.8L100.3 171.5L100.4 160.6L100.4 168.4L100.5 165.3L100.6 169.2L100.7 167.6L100.8 169.5L100.9 169.8L100.9 173.3L101.0 171.8L101.1 167.1L101.2 162.7L101.3 177.7L101.4 178.7L101.4 167.6L101.5 173.6L101.6 161.2L101.7 161.0L101.8 168.6L101.9 178.9L101.9 164.0L102.0 165.2L102.1 179.7L102.2 158.9L102.3 174.0L102.4 173.0L102.4 168.9L102.5 171.2L102.6 185.6L102.7 163.4L102.8 168.2L102.9 168.6L102.9 165.9L103.0 162.0L103.1 179.5L103.2 171.3L103.3 159.5L103.4 165.8L103.4 172.4L103.5 172.3L103.6 161.4L103.7 169.4L103.8 171.5L103.9 172.2L103.9 172.3L104.0 159.1L104.1 180.9L104.2 171.2L104.3 180.7L104.4 186.9L104.4 169.0L104.5 162.6L104.6 175.1L104.7 168.9L104.8 167.3L104.9 163.8L104.9 180.1L105.0 167.4L105.1 161.7L105.2 167.4L105.3 163.2L105.4 171.1L105.4 167.7L105.5 164.0L105.6 173.9L105.7 166.5L105.8 174.7L105.9 177.9L105.9 168.3L106.0 166.7L106.1 171.8L106.2 175.9L106.3 170.6L106.4 171.5L106.4 170.6L106.5 172.7L106.6 174.6L106.7 166.7L106.8 168.1L106.9 171.3L106.9 167.2L107.0 172.0L107.1 174.5L107.2 171.2L107.3 167.8L107.4 166.8L107.4 182.0L107.5 176.9L107.6 165.0L107.7 166.8L107.8 183.1L107.9 181.0L107.9 172.8L108.0 179.0L108.1 163.3L108.2 172.3L108.3 176.8L108.4 161.3L108.4 167.8L108.5 177.3L108.6 179.4L108.7 169.2L108.8 174.5L108.9 182.5L108.9 170.7L109.0 165.0L109.1 172.6L109.2 170.6L109.3 180.8L109.4 174.0L109.4 168.2L109.5 187.4L109.6 170.0L109.7 175.8L109.8 177.1L109.9 177.7L109.9 174.0L110.0 176.5L110.1 172.6L110.2 164.5L110.3 171.7L110.4 171.8L110.4 171.9L110.5 173.8L110.6 169.3L110.7 180.9" stroke="#000" stroke-width="0.65"/>
<path d="M110.7 188.4L111.7 184.4L112.7 188.9L113.7 188.3L114.7 188.8L115.7 189.2L116.7 187.3L117.8 189.0L118.8 187.8L119.8 191.4L120.8 188.2L121.8 187.8L122.8 188.2L123.8 188.1L124.8 188.0L125.8 188.8L126.8 189.8L127.8 189.2L128.8 190.5L129.8 189.7L130.8 190.1L131.9 191.5L132.9 190.4L133.9 189.2L134.9 189.2L135.9 189.4L136.9 190.3L137.9 188.1L138.9 187.7L139.9 188.4L140.9 186.6L141.9 186.8L142.9 187.6L143.9 187.0L145.0 186.3L146.0 186.6L147.0 182.3L148.0 186.5L149.0 183.7L150.0 182.4L151.0 184.6L152.0 184.8L153.0 182.8L154.0 181.4L155.0 182.6L156.0 182.0L157.0 184.0L158.0 182.4L159.1 180.8L160.1 181.9L161.1 178.9L162.1 176.9L163.1 179.1L164.1 178.6L165.1 176.6L166.1 175.0L167.1 176.7L168.1 170.6L169.1 177.2L170.1 176.5L171.1 171.5L172.2 175.1L173.2 172.5L174.2 176.3L175.2 169.5L176.2 172.0L177.2 175.8L178.2 176.9L179.2 168.3L180.2 172.4L181.2 174.4L182.2 171.7L183.2 177.5L184.2 169.6L185.2 173.7L186.3 169.4L187.3 176.3L188.3 171.9L189.3 170.7L190.3 166.4L191.3 176.8L192.3 173.9L193.3 173.8L194.3 175.0L195.3 172.4L196.3 169.0L197.3 168.3L198.3 168.3L199.4 175.9L200.4 165.7L201.4 168.8L202.4 169.9L203.4 171.9L204.4 173.2L205.4 166.7L206.4 164.9L207.4 171.2L208.4 175.5L209.4 173.8L210.4 171.7L211.4 169.6L212.4 171.5L213.5 169.2L214.5 172.7L215.5 166.5L216.5 169.5L217.5 168.2L218.5 170.3L219.5 168.9L220.5 177.2L221.5 173.2L222.5 173.1L223.5 160.1L224.5 166.2L225.5 165.2L226.6 169.3L227.6 159.1L228.6 171.7L229.6 171.4L230.6 162.8L231.6 164.1L232.6 165.0L233.6 168.3L234.6 170.7L235.6 176.1L236.6 168.1L237.6 171.9L238.6 169.8L239.7 175.9L240.7 172.3L241.7 174.8L242.7 165.9L243.7 169.3L244.7 167.2L245.7 175.8L246.7 172.9L247.7 169.5L248.7 169.0L249.7 172.6L250.7 168.3L251.7 167.6L252.7 172.9L253.8 180.3L254.8 170.4L255.8 169.3L256.8 167.1L257.8 166.5L258.8 173.4L259.8 174.6L260.8 171.5L261.8 172.6L262.8 171.8L263.8 171.9L264.8 165.7L265.8 169.6L266.9 171.7L267.9 168.4L268.9 169.6L269.9 168.3L270.9 170.1L271.9 174.6L272.9 169.9L273.9 170.9L274.9 174.5L275.9 173.9L276.9 177.8L277.9 163.7L278.9 174.6L279.9 169.5L281.0 171.7L282.0 174.2L283.0 174.9L284.0 174.6L285.0 171.1L286.0 176.3L287.0 169.0L288.0 169.3L289.0 172.6L290.0 167.3L291.0 177.2L292.0 172.7L293.0 176.8L294.1 168.4L295.1 166.8L296.1 168.7L297.1 170.6L298.1 165.4L299.1 168.8L300.1 167.1L301.1 173.0L302.1 164.3L303.1 170.5L304.1 164.0L305.1 162.7L306.1 163.5L307.1 161.6L308.2 166.5L309.2 169.7L310.2 166.4L311.2 168.1L312.2 171.8L313.2 166.6L314.2 166.3L315.2 164.5L316.2 159.5L317.2 168.4L318.2 158.9L319.2 168.0L320.2 165.5L321.3 169.8L322.3 165.4L323.3 162.6L324.3 167.1L325.3 163.7L326.3 165.2L327.3 166.2L328.3 165.6L329.3 165.5L330.3 163.2L331.3 165.7L332.3 158.5L333.3 166.1L334.3 162.3L335.4 171.3L336.4 172.0L337.4 159.9L338.4 168.0L339.4 167.2L340.4 163.9L341.4 170.0" stroke="#000" stroke-width="0.75"/>
<path d="M38.2 242.8L38.6 242.2L39.3 241.4L40.0 240.4L40.5 239.8L40.9 239.3L41.5 238.6L42.0 237.8L42.7 236.8L43.0 236.2L43.4 235.6L43.8 234.9L44.2 234.1L44.6 233.4L45.0 232.6L45.4 231.7L45.8 230.9L46.3 230.1L46.7 229.2L47.1 228.4L47.4 227.7L47.8 227.0L48.2 226.2L48.5 225.5L48.9 224.7L49.2 224.0L49.6 223.2L50.0 222.5L50.3 221.7L50.6 221.0L51.0 220.3L51.3 219.6L51.6 219.0L52.0 218.1L52.4 217.3L52.8 216.6L53.1 215.8L53.5 215.1L53.8 214.4L54.2 213.7L54.5 213.0L54.9 212.3L55.3 211.6L55.6 210.8L56.0 210.1L56.3 209.3L56.7 208.6L57.1 207.8L57.5 207.1L57.9 206.3L58.3 205.6L58.7 204.9L59.1 204.3L59.5 203.6L60.0 203.0L60.4 202.3L60.9 201.7L61.3 201.0L61.8 200.3L62.3 199.6L62.7 198.9L63.1 198.2L63.5 197.6L63.9 196.9L64.3 196.2L64.7 195.5L65.1 194.8L65.5 194.1L65.9 193.3L66.3 192.6L66.7 191.9L67.2 191.1L67.6 190.4L68.0 189.8L68.5 189.1L68.9 188.4L69.4 187.7L69.9 187.0L70.4 186.3L70.8 185.5L71.3 184.8L71.8 184.2L72.2 183.5L72.7 182.8L73.1 182.2L73.6 181.4L74.2 180.6L74.7 179.9L75.2 179.1L75.7 178.4L76.1 177.7L76.6 177.0L77.1 176.4L77.6 175.7L78.1 175.1L78.7 174.4L79.3 173.7L80.0 173.0L80.6 172.3L81.2 171.7L81.8 171.2L82.5 170.6L83.1 170.1L83.8 169.6L84.5 169.1L85.2 168.6L86.0 168.2L86.7 167.8L87.4 167.5L88.1 167.1L88.9 166.7L89.8 166.3L90.6 166.0L91.4 165.6L92.3 165.3L93.1 165.1L93.9 164.9L94.8 164.7L95.6 164.6L96.5 164.4L97.4 164.4L98.2 164.4L99.0 164.4L99.9 164.5L100.7 164.7L101.5 164.9L102.4 165.2L103.2 165.6L103.8 166.0L104.5 166.5L105.1 167.0L105.7 167.5L106.4 168.2L107.0 168.9L107.6 169.6L108.2 170.5L108.6 171.1L108.9 171.7L109.2 172.4L109.6 173.1L109.9 173.9L110.2 174.7L110.6 175.4L110.9 176.2L111.2 177.0L111.5 177.8L111.9 178.6L112.2 179.3L112.5 180.0L112.9 180.8L113.3 181.6L113.7 182.4L114.0 183.2L114.4 184.0L114.8 184.8L115.2 185.6L115.6 186.3L116.0 186.9L116.3 187.5L116.7 188.1L117.4 189.0L118.0 189.7L118.7 190.2L119.3 190.7L120.0 191.2L120.6 191.6L121.4 192.1L122.2 192.6L122.9 193.0L123.7 193.3L124.5 193.6L125.5 193.8L126.5 194.0L127.4 194.0L128.4 194.0L129.2 193.9L130.0 193.7L130.7 193.5L131.5 193.3L132.3 193.0L133.0 192.7L133.7 192.4L134.4 192.0L135.2 191.6L136.2 191.1L136.8 190.8L137.5 190.5L138.3 190.1L139.0 189.8L139.9 189.4L140.7 189.0L141.5 188.6L142.4 188.1L143.2 187.7L144.0 187.2L144.7 186.8L145.3 186.3L145.9 185.8L146.6 185.3L147.2 184.8L147.9 184.3L148.6 183.8L149.2 183.3L149.9 182.8L150.5 182.2L151.2 181.8L151.8 181.3L152.5 180.8L153.2 180.3L153.9 179.9L154.6 179.4L155.3 178.9L156.1 178.5L156.8 178.0L157.5 177.6L158.2 177.2L158.9 176.8L159.6 176.4L160.4 176.0L161.2 175.6L161.9 175.2L162.7 174.9L163.5 174.5L164.3 174.2L165.1 173.9L165.9 173.6L166.6 173.3L167.4 173.0L168.2 172.7L169.0 172.4L169.8 172.2L170.6 171.9L171.4 171.7L172.2 171.4L172.9 171.2L173.6 171.0L174.3 170.7L175.0 170.5L175.9 170.1L176.7 169.8L177.3 169.5L178.1 169.2L178.9 168.9L180.0 168.5L180.6 168.3L181.3 168.1L182.0 167.8L182.7 167.6L183.5 167.4L184.3 167.1L185.1 166.9L185.9 166.6L186.8 166.4L187.6 166.1L188.4 165.9L189.2 165.7L190.0 165.5L190.8 165.3L191.7 165.1L192.5 165.0L193.3 164.8L194.2 164.7L195.0 164.5L195.8 164.4L196.7 164.3L197.5 164.1L198.3 164.0L199.2 163.9L200.0 163.8L200.8 163.7L201.7 163.6L202.5 163.5L203.4 163.4L204.2 163.3L205.1 163.2L205.9 163.2L206.7 163.1L207.6 163.1L208.4 163.0L209.3 163.0L210.1 163.0L210.9 163.0L211.8 163.0L212.6 163.0L213.4 163.1L214.3 163.1L215.1 163.2L215.9 163.3L216.8 163.3L217.6 163.4L218.4 163.5L219.3 163.7L220.1 163.8L220.9 163.9L221.6 164.1L222.4 164.2L223.2 164.4L224.0 164.6L224.8 164.8L225.5 165.0L226.3 165.2L227.1 165.4L227.9 165.6L228.7 165.8L229.4 166.1L230.2 166.3L231.0 166.5L231.7 166.8L232.5 167.1L233.3 167.4L234.1 167.7L234.8 168.0L235.6 168.3L236.4 168.6L237.1 168.9L237.9 169.2L238.7 169.5L239.4 169.7L240.2 170.0L241.0 170.3L241.9 170.5L242.7 170.8L243.5 171.0L244.4 171.2L245.2 171.5L246.0 171.7L246.9 171.9L247.7 172.1L248.5 172.3L249.4 172.4L250.2 172.6L251.0 172.8L251.9 172.9L252.8 173.0L253.6 173.1L254.5 173.2L255.3 173.4L256.2 173.4L257.0 173.5L257.8 173.6L258.6 173.7L259.3 173.7L260.0 173.8L261.0 173.9L261.9 174.0L262.6 174.1L263.3 174.1L264.1 174.1L265.0 174.1L266.1 174.0L266.7 173.9L267.4 173.8L268.2 173.7L268.9 173.6L269.7 173.5L270.5 173.3L271.4 173.2L272.2 173.0L273.1 172.9L274.0 172.7L274.8 172.5L275.7 172.3L276.5 172.2L277.3 172.0L278.1 171.8L278.9 171.6L279.7 171.4L280.5 171.2L281.3 171.0L282.1 170.8L282.8 170.6L283.6 170.4L284.4 170.2L285.2 170.0L286.0 169.8L286.8 169.6L287.6 169.4L288.4 169.2L289.2 169.0L290.0 168.9L290.8 168.7L291.6 168.5L292.4 168.4L293.2 168.2L294.0 168.0L294.8 167.9L295.6 167.7L296.4 167.6L297.2 167.4L298.0 167.3L298.8 167.1L299.6 167.0L300.4 166.8L301.2 166.7L302.0 166.5L302.8 166.4L303.6 166.2L304.4 166.1L305.1 165.9L305.9 165.8L306.7 165.7L307.5 165.5L308.3 165.4L309.1 165.2L309.9 165.1L310.7 165.0L311.5 164.9L312.3 164.8L313.1 164.7L313.9 164.6L314.7 164.5L315.5 164.4L316.3 164.3L317.1 164.2L317.9 164.1L318.7 164.0L319.5 163.9L320.3 163.9L321.1 163.8L321.9 163.7L322.7 163.6L323.6 163.6L324.4 163.5L325.2 163.4L326.0 163.4L326.8 163.3L327.6 163.3L328.4 163.2L329.2 163.2L330.1 163.1L331.0 163.0L332.0 162.9L333.0 162.8L333.7 162.7L334.5 162.6L335.4 162.5L336.3 162.4L337.2 162.2L338.2 162.1L339.2 162.0L340.1 161.8L341.1 161.7L342.1 161.5L343.0 161.4L343.9 161.2L344.8 161.1L345.7 161.0L346.4 160.9L347.1 160.7L347.8 160.7L348.3 160.6L348.8 160.5" stroke="#F2A450" stroke-width="1.05"/>
<path d="M45.0 312.7L45.1 312.2L45.3 311.6L45.4 310.8L45.6 310.0L45.9 309.0L46.1 308.1L46.3 307.1L46.6 306.1L46.8 305.2L47.0 304.4L47.2 303.6L47.4 302.8L47.7 302.0L47.9 301.1L48.1 300.3L48.4 299.5L48.6 298.7L48.8 297.9L49.1 297.1L49.3 296.4L49.6 295.5L49.9 294.6L50.2 293.8L50.5 293.0L50.8 292.3L51.1 291.6L51.4 290.8L51.8 290.1L52.2 289.4L52.6 288.7L53.0 288.0L53.5 287.3L54.0 286.6L54.4 285.9L55.0 285.3L55.5 284.6L56.0 284.0L56.5 283.4L57.1 282.9L57.7 282.3L58.3 281.7L58.9 281.2L59.4 280.6L60.0 280.0L60.6 279.4L61.2 278.8L61.7 278.2L62.3 277.6L62.8 276.9L63.4 276.3L63.9 275.7L64.5 275.1L65.0 274.4L65.6 273.8L66.2 273.1L66.8 272.5L67.4 271.8L68.0 271.1L68.5 270.4L69.1 269.7L69.7 269.1L70.2 268.6L70.6 268.1L71.5 267.2L72.2 266.7L73.1 266.3L73.8 266.1L74.6 265.9L75.4 265.7L76.3 265.5L77.2 265.3L78.1 265.1L78.9 264.9L79.8 264.7L80.6 264.4L81.4 264.2L82.3 264.0L83.1 263.8L83.9 263.6L84.8 263.4L85.6 263.2L86.4 263.0L87.3 262.8L88.1 262.6L88.9 262.4L89.8 262.2L90.7 261.9L91.5 261.7L92.3 261.5L93.1 261.3L94.1 261.0L95.0 260.8L95.9 260.6L96.9 260.6L97.7 260.7L98.5 260.9L99.4 261.1L100.3 261.4L101.1 261.7L101.9 262.0L102.7 262.4L103.5 262.9L104.2 263.4L105.0 264.0L105.7 264.6L106.3 265.2L106.9 265.9L107.6 266.6L108.2 267.4L108.8 268.1L109.4 268.8L110.0 269.4L110.6 270.1L111.2 270.7L111.8 271.3L112.5 271.9L113.2 272.6L113.8 273.1L114.4 273.7L115.0 274.3L115.6 274.9L116.3 275.5L116.9 276.1L117.6 276.6L118.2 277.1L118.9 277.6L119.6 278.1L120.4 278.6L121.1 279.0L121.8 279.4L122.5 279.8L123.2 280.1L124.0 280.4L124.8 280.6L125.6 280.7L126.4 280.8L127.2 280.9L128.0 281.0L128.9 281.1L129.7 281.1L130.6 281.2L131.5 281.2L132.4 281.2L133.4 281.1L134.1 281.1L134.8 281.0L135.5 281.0L136.3 280.9L137.0 280.8L137.9 280.7L138.9 280.4L140.1 280.1L140.7 279.9L141.4 279.7L142.1 279.5L142.8 279.2L143.5 278.9L144.3 278.6L145.1 278.3L145.9 278.0L146.7 277.7L147.6 277.4L148.4 277.0L149.3 276.7L150.1 276.4L151.0 276.0L151.8 275.7L152.6 275.4L153.4 275.1L154.2 274.8L155.0 274.5L155.8 274.2L156.5 273.9L157.3 273.6L158.1 273.3L158.9 273.0L159.7 272.7L160.5 272.4L161.3 272.1L162.1 271.8L162.9 271.5L163.6 271.2L164.4 270.9L165.2 270.7L166.0 270.4L166.8 270.1L167.6 269.8L168.4 269.6L169.2 269.3L170.0 269.0L170.7 268.8L171.5 268.5L172.3 268.3L173.1 268.0L173.9 267.7L174.7 267.5L175.5 267.2L176.3 267.0L177.0 266.7L177.8 266.5L178.6 266.2L179.4 266.0L180.2 265.7L181.0 265.4L181.8 265.2L182.6 264.9L183.4 264.6L184.1 264.4L184.9 264.1L185.7 263.8L186.5 263.5L187.3 263.3L188.1 263.0L188.9 262.7L189.7 262.4L190.4 262.2L191.2 261.9L192.0 261.6L192.8 261.4L193.6 261.1L194.4 260.8L195.2 260.6L196.0 260.3L196.8 260.0L197.6 259.7L198.5 259.4L199.3 259.2L200.1 258.9L200.9 258.6L201.7 258.3L202.5 258.1L203.3 257.8L204.1 257.6L204.8 257.3L205.6 257.1L206.3 256.9L207.0 256.7L208.0 256.4L208.9 256.2L209.7 255.9L210.6 255.7L211.4 255.5L212.2 255.3L213.0 255.1L213.8 255.0L214.6 254.9L215.4 254.7L216.2 254.7L217.0 254.6L217.8 254.6L218.6 254.6L219.4 254.6L220.2 254.7L221.0 254.7L221.8 254.8L222.6 254.9L223.4 255.0L224.3 255.2L225.2 255.3L226.1 255.4L227.0 255.5L227.7 255.6L228.5 255.7L229.3 255.7L230.1 255.8L231.0 255.9L231.9 256.0L232.7 256.1L233.6 256.2L234.5 256.3L235.3 256.4L236.2 256.5L237.0 256.6L237.8 256.7L238.6 256.8L239.3 256.9L240.0 257.0L241.0 257.2L241.9 257.3L242.7 257.5L243.5 257.6L244.2 257.8L244.9 257.9L245.7 258.1L246.5 258.2L247.4 258.4L248.4 258.6L249.1 258.7L249.8 258.9L250.6 259.0L251.3 259.1L252.1 259.3L252.9 259.4L253.7 259.6L254.6 259.7L255.4 259.9L256.3 260.0L257.2 260.2L258.1 260.3L259.0 260.5L259.9 260.6L260.9 260.7L261.8 260.8L262.6 260.9L263.3 261.0L264.1 261.0L264.9 261.1L265.7 261.2L266.6 261.2L267.4 261.3L268.2 261.4L269.1 261.4L269.9 261.5L270.8 261.5L271.7 261.6L272.5 261.6L273.4 261.7L274.2 261.7L275.1 261.7L276.0 261.8L276.8 261.8L277.7 261.8L278.5 261.8L279.3 261.8L280.2 261.8L281.0 261.8L281.8 261.8L282.7 261.8L283.5 261.8L284.3 261.7L285.2 261.7L286.0 261.7L286.9 261.6L287.7 261.6L288.5 261.6L289.4 261.5L290.2 261.5L291.0 261.4L291.9 261.4L292.7 261.3L293.5 261.2L294.4 261.2L295.2 261.1L296.0 261.0L296.8 261.0L297.6 260.9L298.4 260.8L299.2 260.7L300.0 260.6L300.8 260.5L301.6 260.4L302.4 260.3L303.2 260.2L303.9 260.1L304.7 260.0L305.5 259.9L306.3 259.8L307.1 259.7L307.9 259.6L308.7 259.5L309.5 259.4L310.3 259.3L311.1 259.2L311.9 259.1L312.7 259.0L313.5 258.9L314.3 258.8L315.0 258.7L315.8 258.6L316.6 258.6L317.3 258.5L318.1 258.4L318.9 258.3L319.6 258.2L320.4 258.1L321.2 258.0L322.0 257.9L322.8 257.8L323.6 257.7L324.4 257.6L325.2 257.5L326.0 257.4L326.9 257.3L327.7 257.2L328.6 257.1L329.4 257.0L330.2 256.9L331.0 256.8L331.9 256.7L332.7 256.5L333.6 256.4L334.6 256.3L335.5 256.1L336.5 256.0L337.4 255.9L338.3 255.7L339.3 255.6L340.2 255.5L341.1 255.3L342.0 255.2L342.9 255.1L343.7 254.9L344.5 254.8L345.3 254.7L346.0 254.6L346.7 254.5L347.3 254.4L347.9 254.3L348.4 254.3L348.8 254.2" stroke="#F2A450" stroke-width="1.05"/>
<path d="M109.4 269.0L110.2 269.8L111.1 271.1L111.9 271.4L112.8 271.4L113.6 272.5L114.5 272.9L115.3 273.8L116.1 273.8L117.0 275.1L117.8 275.7L118.7 276.7L119.5 276.9L120.3 277.5L121.2 277.4L122.0 279.3L122.9 278.2L123.7 279.7L124.6 279.5L125.4 279.5L126.2 279.7L127.1 279.7L127.9 280.2L128.8 280.6L129.6 281.4L130.4 280.0L131.3 280.7L132.1 280.3L133.0 280.9L133.8 279.7L134.7 280.3L135.5 280.5L136.3 279.6L137.2 280.5L138.0 280.0L138.9 280.2L139.7 280.0L140.6 278.9L141.4 278.7L142.2 278.7L143.1 278.9L143.9 278.6L144.8 277.6L145.6 277.3L146.4 276.9L147.3 276.7L148.1 276.5L149.0 276.2L149.8 276.9L150.7 275.3L151.5 275.1L152.3 275.2L153.2 274.1L154.0 274.1L154.9 273.9L155.7 274.0L156.5 272.5L157.4 273.7L158.2 272.4L159.1 272.3L159.9 272.4L160.8 271.9L161.6 271.9L162.4 271.0L163.3 270.5L164.1 270.4L165.0 269.2L165.8 270.4L166.7 268.7L167.5 268.1L168.3 270.1L169.2 268.3L170.0 267.3L170.9 269.1L171.7 267.3L172.5 268.0L173.4 266.4L174.2 266.5L175.1 265.2L175.9 264.7L176.8 265.2L177.6 265.6L178.4 266.0L179.3 267.0L180.1 264.0L181.0 265.4L181.8 263.8L182.6 263.9L183.5 262.5L184.3 262.2L185.2 262.5L186.0 261.8L186.9 262.6L187.7 261.7L188.5 263.1L189.4 261.8L190.2 261.6L191.1 262.1L191.9 261.3L192.7 260.5L193.6 260.1L194.4 259.8L195.3 260.6L196.1 260.0L197.0 259.3L197.8 259.4L198.6 257.8L199.5 258.5L200.3 256.3L201.2 258.6L202.0 257.1L202.9 256.8L203.7 256.9L204.5 256.0L205.4 255.4L206.2 256.5L207.1 255.1L207.9 253.7L208.7 254.7L209.6 252.1L210.4 255.1L211.3 252.8L212.1 252.6L213.0 254.5L213.8 254.0L214.6 251.6L215.5 251.8L216.3 252.3L217.2 252.9L218.0 251.1L218.8 251.5L219.7 252.7L220.5 251.9L221.4 252.5L222.2 252.5L223.1 250.7L223.9 251.1L224.7 249.3L225.6 252.0L226.4 253.8L227.3 251.2L228.1 253.8L229.0 253.6L229.8 252.5L230.6 252.6L231.5 252.8L232.3 251.8L233.2 252.5L234.0 252.8L234.8 253.6L235.7 253.8L236.5 252.2L237.4 254.0L238.2 252.3L239.1 253.1L239.9 253.8L240.7 253.5L241.6 253.6L242.4 254.3L243.3 253.6L244.1 253.7L244.9 254.5L245.8 256.2L246.6 255.3L247.5 258.0L248.3 256.3L249.2 252.8L250.0 256.2" stroke="#000" stroke-width="0.75"/>
<path d="M250.0 256.7L278.5 254.0L279.5 261.5" stroke="#000" stroke-width="0.9"/>
<path d="M279.5 260.3L280.3 259.2L281.1 260.5L281.9 261.2L282.6 262.0L283.4 260.1L284.2 258.8L285.0 258.2L285.8 260.3L286.6 261.3L287.4 259.1L288.1 256.6L288.9 256.9L289.7 260.6L290.5 258.3L291.3 255.3L292.1 257.7L292.9 256.0L293.6 256.7L294.4 256.8L295.2 256.4L296.0 258.2L296.8 257.2L297.6 256.3L298.4 257.7L299.1 258.3L299.9 254.5L300.7 256.5L301.5 255.3L302.3 256.4L303.1 254.6L303.9 256.5L304.6 256.3L305.4 255.8L306.2 254.6L307.0 255.5L307.8 254.3L308.6 253.8L309.4 256.1L310.2 254.0L310.9 257.3L311.7 256.5L312.5 252.4L313.3 255.7L314.1 253.5L314.9 255.1L315.7 255.0L316.4 251.9L317.2 254.4L318.0 254.3L318.8 256.0L319.6 252.7L320.4 255.5L321.2 252.7L321.9 253.8L322.7 252.9L323.5 256.3L324.3 254.9L325.1 257.6L325.9 254.8L326.7 255.0L327.4 254.9L328.2 252.6L329.0 253.2L329.8 255.1L330.6 252.2L331.4 252.8L332.2 252.1L332.9 252.6L333.7 251.0L334.5 251.7L335.3 253.8" stroke="#000" stroke-width="0.8"/>
<path d="M45.0 399.7L45.1 399.2L45.2 398.7L45.3 398.0L45.4 397.3L45.6 396.5L45.7 395.7L45.9 394.8L46.1 393.9L46.3 392.9L46.4 392.0L46.6 391.1L46.8 390.2L47.0 389.4L47.1 388.7L47.3 387.9L47.5 387.0L47.6 386.2L47.8 385.4L48.0 384.5L48.2 383.7L48.4 382.8L48.6 382.0L48.8 381.2L48.9 380.4L49.1 379.6L49.3 378.9L49.5 378.0L49.8 377.1L50.0 376.2L50.2 375.4L50.4 374.6L50.7 373.8L50.9 373.0L51.1 372.2L51.3 371.5L51.6 370.8L51.8 370.1L52.1 369.2L52.4 368.3L52.7 367.5L53.0 366.7L53.3 366.0L53.6 365.3L53.9 364.6L54.3 363.9L54.8 363.2L55.3 362.5L55.8 361.9L56.3 361.4L56.9 360.8L57.5 360.2L58.0 359.6L58.5 359.0L59.1 358.3L59.6 357.7L60.2 357.1L60.7 356.4L61.3 355.8L61.8 355.1L62.3 354.4L62.9 353.7L63.4 353.1L64.0 352.4L64.5 351.6L65.1 350.9L65.6 350.1L66.0 349.4L66.4 348.8L66.8 348.0L67.2 347.3L67.7 346.6L68.1 345.9L68.5 345.1L68.9 344.5L69.3 343.8L69.8 343.0L70.3 342.2L70.9 341.4L71.4 340.6L71.9 339.9L72.5 339.3L73.1 338.8L73.9 338.4L74.7 338.1L75.5 337.9L76.4 337.7L77.3 337.6L78.1 337.5L78.9 337.4L79.8 337.3L80.6 337.3L81.4 337.2L82.3 337.1L83.1 337.0L83.9 336.8L84.8 336.5L85.7 336.2L86.5 336.0L87.3 335.7L88.1 335.5L89.1 335.3L90.0 335.1L90.9 335.0L91.9 335.0L92.7 335.0L93.5 335.0L94.4 335.1L95.3 335.1L96.1 335.3L96.9 335.5L97.7 335.8L98.5 336.2L99.2 336.7L100.0 337.3L100.7 338.0L101.2 338.5L101.6 339.1L102.1 339.8L102.6 340.5L103.0 341.3L103.5 342.1L103.9 342.9L104.4 343.8L104.7 344.5L105.1 345.2L105.4 346.0L105.8 346.8L106.1 347.6L106.5 348.4L106.8 349.3L107.2 350.1L107.5 351.0L107.9 351.8L108.2 352.6L108.5 353.4L108.9 354.2L109.2 355.1L109.5 355.9L109.9 356.7L110.2 357.6L110.6 358.4L110.9 359.2L111.2 360.0L111.6 360.7L111.9 361.4L112.3 362.2L112.7 363.0L113.1 363.7L113.5 364.4L113.9 365.1L114.3 365.7L114.8 366.4L115.2 367.0L115.7 367.6L116.3 368.3L116.9 369.0L117.5 369.7L118.2 370.3L118.9 370.9L119.5 371.5L120.1 372.1L120.7 372.6L121.4 373.2L122.1 373.8L122.7 374.3L123.3 374.8L123.9 375.2L124.5 375.6L125.4 376.1L126.2 376.5L127.0 376.8L128.0 377.0L128.8 377.2L129.6 377.3L130.5 377.4L131.4 377.5L132.4 377.5L133.4 377.5L134.1 377.5L134.8 377.5L135.5 377.5L136.3 377.4L137.0 377.3L137.9 377.1L138.9 376.7L140.1 376.2L140.6 375.9L141.2 375.6L141.8 375.3L142.5 374.9L143.1 374.5L143.8 374.1L144.5 373.6L145.2 373.2L146.0 372.7L146.7 372.2L147.5 371.7L148.2 371.2L149.0 370.7L149.7 370.2L150.5 369.7L151.2 369.2L152.0 368.7L152.7 368.3L153.4 367.8L154.1 367.4L154.8 366.9L155.5 366.4L156.2 366.0L156.9 365.5L157.6 365.1L158.3 364.6L159.0 364.1L159.7 363.7L160.4 363.2L161.2 362.8L161.9 362.3L162.6 361.9L163.3 361.4L164.0 361.0L164.7 360.6L165.4 360.2L166.1 359.8L166.8 359.4L167.5 359.0L168.3 358.6L169.1 358.3L169.8 357.9L170.6 357.6L171.4 357.2L172.2 356.9L172.9 356.6L173.7 356.3L174.5 356.0L175.2 355.7L176.0 355.4L176.7 355.1L177.5 354.7L178.2 354.4L178.9 354.1L179.5 353.7L180.2 353.4L181.0 353.0L181.7 352.5L182.4 352.1L183.1 351.7L183.8 351.2L184.4 350.8L185.1 350.3L185.7 349.9L186.4 349.4L187.0 349.0L187.6 348.5L188.2 348.1L188.9 347.6L189.5 347.1L190.2 346.7L190.9 346.2L191.5 345.8L192.2 345.3L192.9 344.8L193.6 344.3L194.2 343.9L194.9 343.4L195.6 342.9L196.3 342.4L196.9 342.0L197.6 341.5L198.3 341.1L199.0 340.7L199.6 340.3L200.3 340.0L201.1 339.6L201.8 339.3L202.6 339.0L203.4 338.6L204.2 338.4L204.9 338.1L205.7 337.9L206.5 337.6L207.2 337.4L208.0 337.2L208.8 337.0L209.5 336.9L210.3 336.7L211.1 336.5L212.0 336.4L212.8 336.3L213.6 336.2L214.5 336.1L215.3 336.0L216.1 336.0L217.0 336.0L217.8 335.9L218.6 335.9L219.5 336.0L220.3 336.0L221.1 336.1L222.0 336.1L222.8 336.2L223.7 336.4L224.5 336.5L225.4 336.7L226.2 336.8L227.1 337.0L227.9 337.2L228.7 337.4L229.6 337.5L230.4 337.7L231.2 337.9L232.0 338.0L232.9 338.2L233.7 338.4L234.5 338.6L235.3 338.8L236.1 339.0L236.9 339.2L237.7 339.4L238.5 339.6L239.2 339.8L240.0 340.0L240.9 340.2L241.7 340.5L242.5 340.7L243.2 341.0L244.0 341.2L244.7 341.5L245.6 341.7L246.4 341.9L247.4 342.2L248.4 342.4L249.1 342.5L249.8 342.7L250.6 342.8L251.4 343.0L252.2 343.1L253.1 343.3L253.9 343.4L254.8 343.6L255.7 343.7L256.6 343.8L257.5 344.0L258.3 344.1L259.2 344.2L260.1 344.3L261.0 344.3L261.8 344.4L262.6 344.4L263.5 344.5L264.3 344.5L265.1 344.5L266.0 344.5L266.8 344.5L267.6 344.5L268.4 344.5L269.3 344.5L270.1 344.4L270.9 344.4L271.8 344.3L272.6 344.3L273.4 344.2L274.3 344.2L275.1 344.1L275.9 344.0L276.8 344.0L277.6 343.9L278.4 343.8L279.3 343.7L280.1 343.7L281.0 343.6L281.8 343.5L282.6 343.4L283.5 343.3L284.3 343.1L285.1 343.0L286.0 342.9L286.8 342.7L287.7 342.6L288.5 342.4L289.3 342.2L290.1 342.0L290.9 341.8L291.7 341.6L292.4 341.4L293.2 341.1L294.0 340.9L294.8 340.6L295.6 340.4L296.4 340.1L297.2 339.9L298.0 339.6L298.7 339.3L299.5 339.1L300.3 338.9L301.1 338.6L301.9 338.4L302.7 338.2L303.5 338.0L304.3 337.8L305.1 337.6L305.8 337.4L306.6 337.1L307.4 336.9L308.2 336.7L309.0 336.6L309.8 336.4L310.6 336.2L311.4 336.0L312.2 335.8L312.9 335.6L313.7 335.4L314.5 335.3L315.3 335.1L316.1 334.9L316.9 334.8L317.7 334.6L318.5 334.5L319.2 334.4L320.0 334.2L320.8 334.1L321.5 334.0L322.3 333.9L323.1 333.7L323.9 333.6L324.8 333.4L325.7 333.3L326.6 333.1L327.6 332.9L328.6 332.7L329.3 332.6L330.0 332.4L330.8 332.2L331.7 332.0L332.5 331.8L333.4 331.6L334.3 331.4L335.3 331.2L336.2 331.0L337.2 330.8L338.1 330.5L339.1 330.3L340.0 330.1L340.9 329.9L341.8 329.7L342.7 329.4L343.6 329.2L344.4 329.0L345.2 328.9L345.9 328.7L346.6 328.5L347.3 328.4L347.8 328.2L348.4 328.1L348.8 328.0" stroke="#F2A450" stroke-width="1.05"/>
<path d="M109.4 366.4L110.5 367.5L111.7 366.1L112.8 368.0L113.9 369.4L115.1 370.4L116.2 370.9L117.3 372.4L118.5 372.9L119.6 373.9L120.7 374.1L121.9 373.6L123.0 373.8L124.1 374.8L125.3 374.5L126.4 375.9L127.5 376.1L128.7 376.6L129.8 375.5L130.9 376.3L132.1 374.8L133.2 374.7L134.3 375.1L135.5 375.1L136.6 373.6L137.7 373.2L138.9 374.2L140.0 372.9L141.1 373.8L142.3 372.7L143.4 372.0L144.5 371.3L145.7 371.2L146.8 369.8L147.9 370.1L149.1 368.2L150.2 367.8L151.3 366.8L152.5 367.1L153.6 366.0L154.7 364.6L155.9 366.2L157.0 363.5L158.1 363.0L159.3 362.8L160.4 363.4L161.5 361.3L162.7 361.5L163.8 360.5L164.9 358.8L166.1 360.2L167.2 360.0L168.3 358.5L169.5 358.2L170.6 356.5L171.7 356.0L172.9 356.6L174.0 357.1L175.1 355.7L176.3 355.9L177.4 356.1L178.5 354.9L179.7 354.9L180.8 355.3L181.9 352.3L183.1 353.9L184.2 351.0L185.3 353.0L186.5 352.8L187.6 353.3L188.8 343.9L189.5 346.1L190.2 346.7L191.0 346.7L191.7 348.0L192.4 343.9L193.1 345.6L193.8 343.8L194.5 341.7L195.3 342.9L196.0 343.7L196.7 342.2L197.4 343.5L198.1 345.8L198.9 344.6L199.6 342.2L200.3 343.7L201.0 342.4L201.7 338.8L202.5 344.3L203.2 339.0L203.9 342.2L204.6 341.3L205.3 341.6L206.0 341.6L206.8 340.2L207.5 342.5L208.2 337.7L208.9 341.9L209.6 336.5L210.4 342.5L211.1 338.7L211.8 340.5L212.5 342.9L213.2 334.7L214.0 338.7L214.7 340.5L215.4 341.2L216.1 342.2L216.8 340.4L217.5 340.2L218.3 339.2L219.0 339.5L219.7 339.0L220.4 341.1L221.1 339.2L221.9 340.4L222.6 342.6L223.3 341.6L224.0 338.0L224.7 338.6L225.5 340.6L226.2 337.4L226.9 334.6L227.6 336.6L228.3 340.4L229.0 338.7L229.8 338.4L230.5 341.2L231.2 336.8L231.9 345.2L232.6 339.7L233.4 338.9L234.1 345.0L234.8 337.2L235.5 338.8L236.2 339.9L237.0 337.8L237.7 339.5L238.4 339.7L239.1 341.1L239.8 340.6L240.5 343.5L241.3 346.1L242.0 345.4L242.7 335.7L243.4 345.1L244.1 343.7L244.9 342.8L245.6 339.2L246.3 340.8L247.0 341.5L247.7 338.4L248.5 345.8L249.2 345.0L249.9 342.5L250.6 340.0L251.3 346.6L252.0 344.7L252.8 346.0L253.5 341.9L254.2 350.0L254.9 342.8L255.6 348.9L256.4 337.5L257.1 344.3L257.8 343.7L258.5 336.1L259.2 341.7L260.0 340.0L260.7 339.5L261.4 341.5L262.1 340.3L262.8 344.8L263.5 345.2L264.3 344.7L265.0 341.4L265.7 342.4L266.4 355.7L267.1 342.9L267.9 343.9L268.6 342.1L269.3 345.6L270.0 346.7L270.7 346.4L271.5 345.2L272.2 346.1L272.9 343.2L273.6 345.8L274.3 340.7L275.0 344.1L275.8 346.6L276.5 340.5L277.2 346.2L277.9 344.7L278.6 339.7L279.4 338.1L280.1 338.2L280.8 340.1L281.5 344.6L282.2 344.3L283.0 347.5L283.7 351.0L284.4 341.7L285.1 336.4L285.8 338.2L286.5 336.3L287.3 340.7L288.0 338.2L288.7 347.2L289.4 337.5L290.1 341.7L290.9 341.6L291.6 341.8L292.3 340.2L293.0 349.4L293.7 342.0L294.5 341.8L295.2 344.0L295.9 342.1L296.6 347.5L297.3 336.7L298.0 340.2L298.8 338.9L299.5 340.3L300.2 343.7L300.9 338.4L301.6 333.0L302.4 340.3L303.1 336.1L303.8 342.1L304.5 340.5L305.2 347.4L306.0 341.5L306.7 336.2L307.4 340.6L308.1 343.2L308.8 339.3L309.5 338.8L310.3 337.8L311.0 337.1L311.7 335.0L312.4 341.2L313.1 340.0L313.9 332.7L314.6 342.5L315.3 338.3L316.0 339.0L316.7 338.7L317.5 342.8L318.2 328.8L318.9 337.8L319.6 340.1L320.3 337.2L321.0 330.8L321.8 332.4L322.5 338.5L323.2 343.5L323.9 329.4L324.6 335.0L325.4 338.9L326.1 338.6L326.8 340.0L327.5 342.7L328.2 341.1L329.0 331.4L329.7 336.6L330.4 333.2L331.1 338.1L331.8 344.9L332.5 342.9L333.3 348.8L334.0 344.8L334.7 343.6" stroke="#000" stroke-width="0.8"/>
<path d="M52.3 463.0L52.4 464.0L52.4 462.0L52.5 459.8L52.6 461.3L52.7 459.4L52.7 462.9L52.8 467.2L52.9 460.9L52.9 460.4L53.0 464.1L53.1 463.6L53.2 462.7L53.2 459.2L53.3 462.2L53.4 464.6L53.4 457.6L53.5 460.6L53.6 455.6L53.7 457.6L53.7 455.7L53.8 461.1L53.9 457.6L53.9 462.7L54.0 462.3L54.1 461.1L54.2 453.1L54.2 459.8L54.3 461.4L54.4 461.9L54.4 456.3L54.5 459.8L54.6 458.0L54.7 458.5L54.7 464.8L54.8 458.4L54.9 461.0L54.9 464.1L55.0 459.1L55.1 460.6L55.2 461.3L55.2 461.1L55.3 456.7L55.4 461.0L55.4 465.3L55.5 455.4L55.6 463.5L55.7 461.0L55.7 458.3L55.8 467.2L55.9 463.0L55.9 456.3L56.0 460.6L56.1 462.2L56.2 459.6L56.2 462.5L56.3 459.9L56.4 462.3L56.5 464.9L56.5 457.7L56.6 460.6L56.7 458.3L56.7 460.3L56.8 455.8L56.9 457.8L57.0 459.0L57.0 462.7L57.1 463.5L57.2 455.1L57.2 456.8L57.3 461.9L57.4 452.7L57.5 457.8L57.5 459.0L57.6 463.5L57.7 461.5L57.7 458.1L57.8 457.9L57.9 458.2L58.0 464.2L58.0 457.5L58.1 457.9L58.2 460.1L58.2 458.4L58.3 458.1L58.4 455.0L58.5 458.7L58.5 457.2L58.6 462.6L58.7 460.8L58.7 458.5L58.8 460.8L58.9 457.3L59.0 462.0L59.0 458.4L59.1 460.3L59.2 453.9L59.2 459.4L59.3 452.5L59.4 451.3L59.5 457.1L59.5 455.1L59.6 458.6L59.7 465.6L59.7 455.2L59.8 455.8L59.9 458.6L60.0 459.5L60.0 457.2L60.1 457.1L60.2 460.1L60.2 459.4L60.3 454.2L60.4 457.3L60.5 457.7L60.5 454.0L60.6 457.7L60.7 454.6L60.7 460.7L60.8 458.0L60.9 457.6L61.0 455.3L61.0 456.8L61.1 450.5L61.2 453.4L61.2 458.3L61.3 449.9L61.4 459.9L61.5 451.1L61.5 459.5L61.6 454.1L61.7 459.5L61.7 457.3L61.8 451.6L61.9 461.0L62.0 461.6L62.0 456.5L62.1 455.7L62.2 456.1L62.2 453.3L62.3 460.2L62.4 454.7L62.5 456.3L62.5 453.8L62.6 454.3L62.7 452.0L62.7 460.5L62.8 455.7L62.9 459.5L63.0 456.2L63.0 453.8L63.1 455.0L63.2 454.2L63.2 456.0L63.3 454.7L63.4 454.9L63.5 451.3L63.5 453.1L63.6 461.4L63.7 453.5L63.7 452.2L63.8 456.8L63.9 460.4L64.0 450.7L64.0 454.9L64.1 453.4L64.2 449.6L64.2 457.9L64.3 455.3L64.4 455.6L64.5 452.8L64.5 456.8L64.6 453.4L64.7 454.7L64.8 451.4L64.8 451.0L64.9 459.5L65.0 453.3L65.0 456.0L65.1 454.8L65.2 453.4L65.3 453.1L65.3 456.9L65.4 453.7L65.5 454.2L65.5 454.7L65.6 458.6L65.7 456.9L65.8 455.8L65.8 452.6L65.9 449.8L66.0 457.6L66.0 457.6L66.1 453.8L66.2 456.1L66.3 456.8L66.3 456.9L66.4 457.2L66.5 452.5L66.5 459.1L66.6 449.8L66.7 456.8L66.8 455.5L66.8 456.7L66.9 460.1L67.0 458.7L67.0 449.8L67.1 448.0L67.2 456.3L67.3 450.1L67.3 453.4L67.4 456.2L67.5 447.9L67.5 446.3L67.6 454.2L67.7 453.4L67.8 452.4L67.8 453.3L67.9 450.2L68.0 448.0L68.0 452.4L68.1 449.7L68.2 447.4L68.3 454.5L68.3 452.6L68.4 454.1L68.5 449.4L68.5 450.5L68.6 449.3L68.7 449.6L68.8 453.2L68.8 449.9L68.9 453.6L69.0 453.5L69.0 459.1L69.1 447.6L69.2 455.2L69.3 451.9L69.3 452.1L69.4 447.2L69.5 450.5L69.5 454.5L69.6 451.7L69.7 452.2L69.8 450.9L69.8 455.7L69.9 451.7L70.0 444.4L70.0 449.4L70.1 445.1L70.2 441.6L70.3 449.8L70.3 455.9L70.4 451.6L70.5 447.5L70.5 448.2L70.6 455.1L70.7 451.8L70.8 451.4L70.8 451.0L70.9 451.3L71.0 453.8L71.0 452.9L71.1 451.7L71.2 447.5L71.3 452.6L71.3 448.6L71.4 454.5L71.5 446.6L71.5 450.3L71.6 450.7L71.7 446.3L71.8 456.4L71.8 455.5L71.9 449.0L72.0 453.1L72.0 451.7L72.1 441.7L72.2 451.2L72.3 450.2L72.3 450.6L72.4 446.7L72.5 449.3L72.6 449.6L72.6 454.1L72.7 451.2L72.8 450.1L72.8 455.1L72.9 448.2L73.0 445.1L73.1 443.9L73.1 455.1L73.2 453.1L73.3 452.9L73.3 452.0L73.4 450.1L73.5 450.4L73.6 448.8L73.6 449.0L73.7 449.8L73.8 454.6L73.8 451.4L73.9 449.3L74.0 447.5L74.1 447.3L74.1 454.7L74.2 451.0L74.3 449.5L74.3 448.1L74.4 445.6L74.5 449.0L74.6 452.1L74.6 447.8L74.7 448.4L74.8 448.3L74.8 449.4L74.9 443.7L75.0 448.2L75.1 446.1L75.1 451.8L75.2 446.3L75.3 450.7L75.3 453.8L75.4 447.7L75.5 446.7L75.6 449.3L75.6 448.7L75.7 445.3L75.8 450.1L75.8 455.2L75.9 447.7L76.0 447.8L76.1 445.0L76.1 449.5L76.2 444.3L76.3 444.7L76.3 452.6L76.4 445.3L76.5 451.8L76.6 453.3L76.6 449.1L76.7 450.0L76.8 454.6L76.8 447.4L76.9 446.1L77.0 443.6L77.1 448.1L77.1 452.9L77.2 451.1L77.3 444.8L77.3 445.0L77.4 446.2L77.5 448.8L77.6 447.1L77.6 448.5L77.7 448.7L77.8 446.7L77.8 447.5L77.9 448.3L78.0 447.3L78.1 449.2L78.1 453.7L78.2 449.5L78.3 447.7L78.3 441.9L78.4 448.7L78.5 441.0L78.6 442.7L78.6 450.2L78.7 449.6L78.8 446.8L78.8 441.6L78.9 446.0L79.0 444.9L79.1 449.3L79.1 454.6L79.2 447.8L79.3 444.5L79.3 443.2L79.4 446.8L79.5 446.4L79.6 443.2L79.6 447.3L79.7 443.1L79.8 450.6L79.8 450.4L79.9 450.4L80.0 445.2L80.1 448.5L80.1 446.3L80.2 445.4L80.3 445.6L80.3 442.4L80.4 441.9L80.5 449.2L80.6 446.0L80.6 447.3L80.7 449.8L80.8 440.8L80.9 443.9L80.9 459.0L81.0 447.7L81.1 445.2L81.1 449.8L81.2 447.1L81.3 442.3L81.4 443.3L81.4 449.0L81.5 447.8L81.6 440.0L81.6 450.7L81.7 448.2L81.8 450.6L81.9 444.9L81.9 445.2L82.0 442.4L82.1 454.4L82.1 445.5L82.2 451.3L82.3 443.9L82.4 446.5L82.4 440.5L82.5 444.7L82.6 449.2L82.6 441.8L82.7 449.4L82.8 447.0L82.9 442.4L82.9 444.2L83.0 444.3L83.1 445.6L83.1 444.0L83.2 443.0L83.3 444.7L83.4 442.3L83.4 441.5L83.5 445.5L83.6 448.6L83.6 440.6L83.7 445.6L83.8 443.5L83.9 442.4L83.9 448.4L84.0 443.8L84.1 450.4L84.1 442.9L84.2 446.7L84.3 444.7L84.4 443.0L84.4 447.3L84.5 444.9L84.6 447.4L84.6 445.2L84.7 441.8L84.8 445.0L84.9 445.5L84.9 448.4L85.0 442.3L85.1 445.1L85.1 439.6L85.2 447.3L85.3 441.6L85.4 439.2L85.4 445.0L85.5 448.8L85.6 440.1L85.6 441.5L85.7 442.6L85.8 441.4L85.9 446.3L85.9 442.4L86.0 442.6L86.1 446.9L86.1 442.5L86.2 446.4L86.3 441.7L86.4 440.9L86.4 438.9L86.5 451.0L86.6 443.8L86.6 445.6L86.7 444.7L86.8 445.3L86.9 444.9L86.9 451.0L87.0 441.3L87.1 439.6L87.1 441.4L87.2 440.3L87.3 447.1L87.4 447.3L87.4 441.5L87.5 440.1L87.6 443.4L87.6 449.1L87.7 435.3L87.8 446.3L87.9 441.0L87.9 447.9L88.0 441.0L88.1 443.5L88.1 439.5L88.2 441.2L88.3 449.0L88.4 447.1L88.4 443.1L88.5 441.5L88.6 438.2L88.6 443.1L88.7 444.2L88.8 444.0L88.9 444.0L88.9 440.6L89.0 444.0L89.1 444.1L89.2 448.4L89.2 450.3L89.3 443.7L89.4 441.7L89.4 443.9L89.5 442.2L89.6 441.7L89.7 443.9L89.7 440.7L89.8 446.1L89.9 443.7L89.9 444.9L90.0 443.4L90.1 441.6L90.2 440.9L90.2 443.2L90.3 442.2L90.4 444.7L90.4 443.9L90.5 439.5L90.6 444.1L90.7 439.5L90.7 441.9L90.8 442.9L90.9 437.1L90.9 444.1L91.0 444.3L91.1 443.3L91.2 442.4L91.2 442.6L91.3 440.6L91.4 442.9L91.4 441.9L91.5 444.0L91.6 439.8L91.7 444.4L91.7 444.1L91.8 443.2L91.9 442.2L91.9 445.4L92.0 438.2L92.1 445.1L92.2 444.4L92.2 444.5L92.3 444.8L92.4 441.4L92.4 442.7L92.5 445.6L92.6 444.9L92.7 444.2L92.7 438.5L92.8 445.2L92.9 447.2L92.9 446.7L93.0 444.2L93.1 438.3L93.2 446.4L93.2 442.9L93.3 435.1L93.4 444.6L93.4 438.5L93.5 439.1L93.6 441.2L93.7 447.4L93.7 442.1L93.8 444.1L93.9 448.9L93.9 448.4L94.0 442.9L94.1 442.4L94.2 439.1L94.2 440.9L94.3 444.5L94.4 444.4L94.4 443.5L94.5 446.3L94.6 440.6L94.7 442.9L94.7 445.4L94.8 444.9L94.9 446.5L94.9 444.3L95.0 442.0L95.1 444.2L95.2 439.7L95.2 437.6L95.3 444.8L95.4 442.7L95.4 443.9L95.5 437.4L95.6 441.7L95.7 440.9L95.7 440.0L95.8 435.5L95.9 441.7L95.9 445.7L96.0 444.0L96.1 440.8L96.2 442.7L96.2 445.2L96.3 433.8L96.4 442.3L96.4 444.4L96.5 444.9L96.6 448.2L96.7 446.3L96.7 443.6L96.8 443.6L96.9 445.1L97.0 440.8L97.0 442.4L97.1 445.5L97.2 448.8L97.2 442.0L97.3 442.3L97.4 443.1L97.5 446.8L97.5 442.3L97.6 447.2L97.7 439.3L97.7 441.8L97.8 441.7L97.9 444.9L98.0 445.7L98.0 437.4L98.1 439.3L98.2 443.4L98.2 440.1L98.3 437.3L98.4 445.6L98.5 443.8L98.5 443.8L98.6 440.6L98.7 445.5L98.7 441.4L98.8 445.7L98.9 439.2L99.0 439.3L99.0 442.7L99.1 439.8L99.2 444.2L99.2 442.9L99.3 439.0L99.4 442.2L99.5 440.8L99.5 444.9L99.6 439.9L99.7 440.5L99.7 445.8L99.8 449.1L99.9 448.3L100.0 442.1L100.0 442.6L100.1 446.8L100.2 441.4L100.2 438.7L100.3 442.2L100.4 443.2L100.5 439.1L100.5 436.4L100.6 437.1L100.7 443.9L100.7 439.3L100.8 441.2L100.9 442.4L101.0 443.7L101.0 440.6L101.1 443.3L101.2 438.8L101.2 440.5L101.3 438.3L101.4 445.2L101.5 441.5L101.5 439.2L101.6 440.4L101.7 440.8L101.7 443.8L101.8 436.4L101.9 438.2L102.0 440.3L102.0 449.7L102.1 444.6L102.2 441.1L102.2 443.8L102.3 448.1L102.4 440.7L102.5 440.3L102.5 445.3L102.6 443.0L102.7 443.6L102.7 439.8L102.8 447.6L102.9 446.9L103.0 443.2L103.0 443.6L103.1 434.8L103.2 443.4L103.2 440.7L103.3 435.8L103.4 443.5L103.5 440.2L103.5 435.9L103.6 442.5L103.7 438.9L103.7 440.2L103.8 439.4L103.9 440.2L104.0 433.9L104.0 445.2L104.1 442.1L104.2 444.8L104.2 447.6L104.3 441.3L104.4 435.5L104.5 438.4L104.5 437.4L104.6 439.6L104.7 441.5L104.7 434.8L104.8 442.3L104.9 436.4L105.0 442.2L105.0 440.9L105.1 440.2L105.2 441.0L105.3 439.5L105.3 439.2L105.4 435.8L105.5 441.1L105.5 447.1L105.6 447.5L105.7 445.4L105.8 443.4L105.8 439.0L105.9 445.8L106.0 441.0L106.0 440.9L106.1 440.2L106.2 441.4L106.3 439.7L106.3 440.9L106.4 437.7L106.5 439.9L106.5 448.4L106.6 440.9L106.7 440.3L106.8 442.8L106.8 443.4L106.9 437.5L107.0 440.4L107.0 444.0L107.1 442.0L107.2 441.5L107.3 446.1L107.3 438.9L107.4 441.3L107.5 439.4L107.5 445.8L107.6 434.8L107.7 438.9L107.8 439.4L107.8 443.2L107.9 443.0L108.0 442.6L108.0 436.0L108.1 443.4L108.2 440.1L108.3 438.9L108.3 442.8L108.4 438.1L108.5 438.9L108.5 439.8L108.6 436.2L108.7 438.9L108.8 442.2L108.8 442.0L108.9 446.1" stroke="#000" stroke-width="0.65"/>
<path d="M108.9 437.0L109.7 437.3L110.6 437.5L111.4 438.1L112.3 437.7L113.1 438.9L113.9 439.1L114.8 440.4L115.6 441.2L116.5 442.0L117.3 442.5L118.1 442.9L119.0 444.1L119.8 445.1L120.7 445.0L121.5 446.3L122.3 446.8L123.2 448.2L124.0 447.6L124.8 448.4L125.7 449.1L126.5 449.1L127.4 448.0L128.2 448.9L129.0 448.3L129.9 447.9L130.7 447.6L131.6 447.6L132.4 445.8L133.2 448.0L134.1 445.7L134.9 444.0L135.8 445.1L136.6 445.6L137.4 443.0L138.3 444.0L139.1 443.3L140.0 440.3L140.8 438.3L141.6 439.2L142.5 441.4L143.3 439.1L144.2 438.2L145.0 438.2L145.8 439.4L146.7 439.1L147.5 439.8L148.3 439.6L149.2 437.3L150.0 437.7L150.9 436.4L151.7 437.4L152.5 435.8L153.4 435.4L154.2 438.7L155.1 436.2L155.9 436.5L156.7 438.3L157.6 436.1L158.4 434.8L159.3 434.7L160.1 433.6L160.9 435.3L161.8 433.5L162.6 435.5L163.5 432.9L164.3 432.7L165.1 432.4L166.0 433.3L166.8 432.6L167.7 433.8L168.5 431.4L169.3 432.2L170.2 433.9L171.0 431.2L171.9 432.0L172.7 433.0L173.5 431.7L174.4 430.2L175.2 428.4L176.0 433.5L176.9 431.1L177.7 432.0L178.6 429.8L179.4 432.4L180.2 430.7L181.1 430.0L181.9 428.8L182.8 430.2L183.6 429.0L184.4 429.2L185.3 427.4L186.1 428.6L187.0 429.3L187.8 427.5L188.6 429.0L189.5 429.7L190.3 428.3L191.2 427.9L192.0 427.8L192.8 429.7L193.7 426.4L194.5 427.9L195.4 427.7L196.2 428.4L197.0 428.0L197.9 426.6L198.7 430.6L199.5 428.1L200.4 426.1L201.2 426.6L202.1 427.9L202.9 428.6L203.7 425.9L204.6 428.7L205.4 425.8L206.3 426.6L207.1 428.9L207.9 430.2L208.8 427.6L209.6 427.4L210.5 429.8L211.3 426.3L212.1 428.4L213.0 428.4L213.8 429.7L214.7 428.7L215.5 427.9L216.3 429.4L217.2 426.8L218.0 430.0L218.9 427.7L219.7 427.4L220.5 428.4L221.4 429.3L222.2 430.5L223.1 429.2L223.9 431.0L224.7 431.7L225.6 430.0L226.4 428.7L227.2 432.2L228.1 431.2L228.9 427.0L229.8 429.2L230.6 431.3L231.4 428.6L232.3 429.9L233.1 428.0L234.0 432.1L234.8 431.8L235.6 431.7L236.5 434.2L237.3 430.8L238.2 430.9L239.0 435.5L239.8 428.9L240.7 433.0L241.5 429.0L242.4 432.1L243.2 435.9L244.0 432.2L244.9 430.2L245.7 436.5L246.6 430.7L247.4 431.4L248.2 432.5L249.1 429.3L249.9 434.3L250.8 435.5L251.6 433.9L252.4 433.1L253.3 432.2L254.1 434.3L254.9 426.5L255.8 432.2L256.6 432.8L257.5 428.1L258.3 432.7L259.1 431.3L260.0 431.3L260.8 431.3L261.7 432.1L262.5 431.8L263.3 428.7L264.2 430.5L265.0 430.4L265.9 430.8L266.7 429.5L267.5 432.6L268.4 433.3L269.2 433.7L270.1 434.5L270.9 433.7L271.7 429.8L272.6 429.5L273.4 429.9L274.3 431.9L275.1 430.5L275.9 432.8L276.8 434.1L277.6 429.9L278.4 432.8L279.3 430.0L280.1 428.3L281.0 428.2L281.8 430.1L282.6 426.9L283.5 431.7L284.3 433.7L285.2 428.3L286.0 429.9L286.8 433.6L287.7 431.2L288.5 430.9L289.4 429.9L290.2 432.4L291.0 431.0L291.9 428.1L292.7 425.4L293.6 424.9L294.4 431.5L295.2 429.6L296.1 433.0L296.9 431.1L297.8 427.5L298.6 430.6L299.4 432.3L300.3 428.1L301.1 428.8L302.0 433.3L302.8 426.2L303.6 427.5L304.5 431.7L305.3 429.9L306.1 427.1L307.0 426.4L307.8 430.2L308.7 431.6L309.5 430.8L310.3 429.8L311.2 431.9L312.0 429.5L312.9 427.1L313.7 432.8L314.5 426.2L315.4 428.3L316.2 428.4L317.1 431.3L317.9 426.9L318.7 427.8L319.6 424.8L320.4 429.0L321.3 429.2L322.1 429.6L322.9 426.5L323.8 428.8L324.6 426.6L325.5 427.4L326.3 428.2L327.1 431.0L328.0 427.5L328.8 428.8L329.6 426.7L330.5 427.3L331.3 427.1L332.2 428.2L333.0 430.0L333.8 426.3L334.7 429.9L335.5 426.6L336.4 429.1L337.2 427.3L338.0 427.8L338.9 427.6L339.7 430.5L340.6 428.7L341.4 430.3" stroke="#000" stroke-width="0.8"/>
<path d="M45.0 495.5L45.2 495.0L45.4 494.4L45.7 493.7L46.0 493.0L46.4 492.1L46.8 491.2L47.2 490.3L47.6 489.4L48.0 488.5L48.3 487.8L48.7 487.2L49.1 486.5L49.5 485.7L49.9 485.0L50.3 484.3L50.7 483.6L51.1 482.8L51.5 482.1L51.9 481.3L52.3 480.6L52.7 479.9L53.1 479.1L53.5 478.3L53.9 477.5L54.4 476.7L54.8 475.8L55.2 475.0L55.5 474.2L55.9 473.5L56.3 472.8L56.6 472.1L56.9 471.5L57.4 470.4L57.8 469.6L58.1 468.9L58.4 468.1L59.0 467.2L59.4 466.6L59.8 466.1L60.2 465.4L60.7 464.8L61.2 464.1L61.8 463.5L62.3 462.8L62.8 462.1L63.4 461.5L63.9 460.8L64.4 460.1L65.0 459.5L65.5 458.8L66.1 458.1L66.7 457.4L67.3 456.8L67.8 456.1L68.4 455.4L68.9 454.7L69.4 454.1L69.9 453.4L70.4 452.6L70.9 451.9L71.4 451.1L71.9 450.4L72.4 449.7L72.8 449.1L73.2 448.5L73.6 448.0L74.4 447.2L75.0 446.6L75.6 446.2L76.4 445.8L77.1 445.5L77.8 445.3L78.6 445.1L79.5 444.8L80.6 444.6L81.3 444.4L82.0 444.3L82.9 444.1L83.7 444.0L84.6 443.8L85.5 443.6L86.4 443.4L87.2 443.3L88.1 443.1L88.9 442.9L89.8 442.8L90.6 442.6L91.4 442.4L92.3 442.2L93.1 442.1L93.9 441.9L94.8 441.7L95.6 441.6L96.5 441.5L97.3 441.3L98.2 441.2L99.1 441.0L100.0 440.9L100.9 440.8L101.7 440.7L102.5 440.7L103.2 440.6L104.2 440.6L105.1 440.5L105.9 440.6L106.7 440.6L107.5 440.7L108.2 440.9L109.0 441.2L109.7 441.6L110.4 442.0L111.1 442.5L111.9 443.1L112.5 443.6L113.2 444.1L113.9 444.7L114.7 445.3L115.4 445.9L116.2 446.4L116.9 446.9L117.7 447.4L118.6 447.8L119.5 448.1L120.3 448.4L121.2 448.7L122.0 448.9L122.9 449.1L123.8 449.3L124.7 449.4L125.6 449.5L126.7 449.4L127.4 449.3L128.2 449.2L129.1 449.0L129.9 448.8L130.8 448.6L131.7 448.4L132.5 448.1L133.4 447.8L134.1 447.5L134.8 447.2L135.4 446.8L136.0 446.5L136.7 446.1L137.4 445.7L138.2 445.3L139.1 444.8L140.1 444.4L140.7 444.2L141.4 443.9L142.1 443.7L142.8 443.4L143.5 443.2L144.3 442.9L145.1 442.7L145.9 442.4L146.7 442.2L147.6 441.9L148.4 441.6L149.3 441.4L150.1 441.1L151.0 440.9L151.8 440.6L152.6 440.3L153.4 440.1L154.2 439.9L155.0 439.6L155.8 439.4L156.5 439.1L157.3 438.9L158.1 438.6L158.9 438.4L159.7 438.2L160.5 437.9L161.3 437.7L162.1 437.5L162.9 437.2L163.6 437.0L164.4 436.8L165.2 436.5L166.0 436.3L166.8 436.1L167.6 435.9L168.4 435.7L169.2 435.5L170.0 435.2L170.7 435.0L171.5 434.8L172.3 434.6L173.1 434.4L173.9 434.2L174.7 434.0L175.5 433.8L176.3 433.6L177.0 433.4L177.8 433.2L178.6 433.1L179.4 432.9L180.2 432.7L181.0 432.5L181.8 432.3L182.6 432.2L183.4 432.0L184.1 431.8L184.9 431.7L185.7 431.5L186.5 431.3L187.3 431.2L188.1 431.0L188.9 430.9L189.7 430.7L190.4 430.6L191.2 430.5L192.0 430.3L192.8 430.2L193.6 430.1L194.4 430.0L195.3 429.9L196.1 429.8L197.0 429.7L197.8 429.6L198.6 429.5L199.5 429.4L200.3 429.3L201.1 429.2L202.0 429.2L202.8 429.1L203.7 429.1L204.5 429.0L205.3 429.0L206.2 429.0L207.0 429.0L207.8 429.0L208.7 429.0L209.5 429.1L210.3 429.1L211.1 429.1L211.9 429.2L212.8 429.3L213.6 429.3L214.4 429.4L215.2 429.5L216.0 429.6L216.9 429.7L217.7 429.8L218.6 429.9L219.4 430.0L220.3 430.1L221.1 430.2L221.9 430.3L222.6 430.4L223.4 430.5L224.2 430.7L225.0 430.8L225.8 430.9L226.6 431.1L227.4 431.2L228.3 431.3L229.1 431.5L229.9 431.6L230.7 431.8L231.6 431.9L232.4 432.1L233.3 432.2L234.1 432.4L235.0 432.5L235.8 432.6L236.5 432.7L237.3 432.9L238.1 433.0L238.8 433.1L239.6 433.3L240.4 433.4L241.2 433.6L242.0 433.7L242.8 433.8L243.6 434.0L244.4 434.1L245.2 434.2L246.1 434.4L246.9 434.5L247.7 434.6L248.5 434.7L249.3 434.8L250.1 434.9L250.9 435.0L251.7 435.1L252.5 435.2L253.4 435.3L254.2 435.3L255.0 435.4L255.9 435.4L256.7 435.5L257.5 435.6L258.4 435.6L259.2 435.6L260.0 435.7L260.9 435.7L261.7 435.7L262.5 435.8L263.4 435.8L264.2 435.8L265.1 435.8L265.9 435.8L266.7 435.8L267.6 435.8L268.4 435.8L269.2 435.8L270.0 435.8L270.8 435.7L271.6 435.7L272.4 435.7L273.2 435.6L274.0 435.6L274.8 435.6L275.6 435.5L276.4 435.5L277.2 435.4L278.0 435.3L278.8 435.3L279.6 435.2L280.4 435.2L281.2 435.1L282.0 435.0L282.8 435.0L283.6 434.9L284.4 434.9L285.2 434.8L286.0 434.7L286.9 434.7L287.7 434.6L288.5 434.5L289.4 434.5L290.2 434.4L291.1 434.3L291.9 434.2L292.7 434.2L293.6 434.1L294.4 434.0L295.2 434.0L296.1 433.9L296.9 433.8L297.7 433.7L298.6 433.7L299.4 433.6L300.2 433.5L301.1 433.5L301.9 433.4L302.7 433.3L303.6 433.3L304.4 433.2L305.2 433.2L306.1 433.1L306.9 433.1L307.7 433.0L308.6 433.0L309.4 432.9L310.2 432.9L311.1 432.8L311.9 432.8L312.8 432.8L313.6 432.7L314.4 432.7L315.3 432.6L316.1 432.6L316.9 432.5L317.8 432.5L318.6 432.4L319.4 432.3L320.3 432.3L321.1 432.2L322.0 432.2L322.9 432.1L323.7 432.0L324.6 432.0L325.4 431.9L326.3 431.9L327.2 431.8L328.0 431.7L328.9 431.7L329.7 431.6L330.5 431.5L331.4 431.5L332.2 431.4L333.0 431.3L333.8 431.2L334.5 431.2L335.3 431.1L336.2 431.0L337.1 430.9L338.0 430.8L339.0 430.7L339.9 430.6L340.8 430.5L341.8 430.3L342.7 430.2L343.5 430.1L344.4 430.0L345.2 429.9L345.9 429.8L346.6 429.7L347.3 429.6L347.8 429.5L348.4 429.5L348.8 429.4" stroke="#F2A450" stroke-width="1.05"/>
<path d="M51.8 534.4L52.3 541.6L52.8 528.3L53.3 544.4L53.8 547.7L54.3 536.5L54.8 542.6L55.3 541.2L55.8 536.7L56.3 533.3L56.9 525.0L57.4 549.0L57.9 538.7L58.4 556.6L58.9 544.6L59.4 540.6L59.9 534.0L60.4 548.2L60.9 534.8L61.4 549.2L61.9 535.3L62.4 539.3L62.9 527.1L63.4 554.0L63.9 536.8L64.4 534.6L64.9 542.7L65.4 530.5L65.9 541.9L66.5 527.9L67.0 539.6L67.5 528.1L68.0 522.2L68.5 530.5L69.0 524.0L69.5 537.7L70.0 533.7L70.5 536.8L71.0 533.5L71.5 530.2L72.0 532.7L72.5 539.8L73.0 531.1L73.5 527.0L74.0 525.6L74.5 531.0L75.0 527.4L75.5 546.0L76.1 524.7L76.6 525.5L77.1 531.1L77.6 538.0L78.1 531.6L78.6 526.9L79.1 528.0L79.6 531.3L80.1 540.6L80.6 527.1L81.1 533.3L81.6 529.8L82.1 536.4L82.6 537.1L83.1 524.1L83.6 551.2L84.1 536.0L84.6 531.3L85.2 528.8L85.7 533.4L86.2 535.7L86.7 539.9L87.2 536.0L87.7 539.6L88.2 525.2L88.7 531.4L89.2 529.9L89.7 538.3L90.2 540.7L90.7 527.4L91.2 536.8L91.7 543.3L92.2 544.9L92.7 531.0L93.2 543.0L93.7 541.7L94.2 536.5L94.8 553.6L95.3 532.3L95.8 538.5L96.3 543.9L96.8 542.7L97.3 540.1L97.8 551.2L98.3 552.0L98.8 548.6L99.3 549.5L99.8 542.5L100.3 535.1L100.8 558.9L101.3 537.4L101.8 560.1L102.3 544.1L102.8 547.0L103.3 544.7L103.8 553.0L104.4 543.1L104.9 559.8L105.4 550.9L105.9 548.5L106.4 543.3L106.9 549.2L107.4 547.2L107.9 560.5L108.4 553.6L108.9 536.1" stroke="#000" stroke-width="0.85"/>
<path d="M45.0 564.7L45.4 564.2L45.9 563.5L46.6 562.7L47.3 561.7L48.0 560.8L48.5 560.1L49.0 559.4L49.6 558.7L50.1 557.9L50.7 557.2L51.3 556.4L51.8 555.6L52.2 555.0L52.6 554.4L53.0 553.8L53.4 553.2L53.9 552.6L54.3 552.0L54.7 551.4L55.1 550.7L55.5 550.1L56.1 549.1L56.8 548.0L57.4 546.8L58.0 545.8L58.7 544.8L59.3 544.1L60.0 543.6L60.8 543.2L61.5 542.9L62.3 542.6L63.1 542.1L63.9 541.5L64.7 540.9L65.5 540.4L66.4 540.0L67.3 539.8L68.1 539.6L68.9 539.4L69.8 539.1L70.6 538.9L71.4 538.6L72.3 538.5L73.1 538.3L73.9 538.2L74.8 538.1L75.6 538.1L76.4 538.2L77.3 538.6L78.1 539.0L78.9 539.4L79.8 539.6L80.6 539.5L81.4 539.2L82.3 538.9L83.1 538.7L83.9 539.1L84.8 540.0L85.6 541.0L86.4 542.0L87.3 542.5L88.1 542.5L88.9 542.2L89.8 541.7L90.6 541.4L91.4 541.4L92.3 541.8L93.1 542.3L93.9 542.9L94.8 543.2L95.6 543.4L96.5 543.5L97.4 543.6L98.2 543.7L99.1 543.8L99.9 543.9L100.8 543.8L101.6 543.5L102.4 543.1L103.2 542.8L104.2 542.2L105.1 541.8L106.0 541.6L106.9 541.7L107.6 542.1L108.4 542.7L109.1 543.4L109.9 544.0L110.7 544.4L111.5 544.6L112.3 544.7L113.2 544.6L114.0 544.4L114.9 544.3L115.7 544.3L116.6 544.3L117.5 544.3L118.3 544.4L119.1 544.4L120.0 544.4L120.9 544.2L121.8 544.0L122.8 543.6L123.7 543.1L124.5 542.6L125.3 542.2L126.0 541.8L126.8 541.5L128.0 541.1L128.6 541.0L129.2 540.9L130.0 540.8L130.7 540.7L131.5 540.6L132.4 540.5L133.2 540.3L134.1 540.0L135.0 539.8L135.8 539.6L136.7 539.7L137.5 540.0L138.3 540.3L139.2 540.5L140.1 540.3L141.0 539.7L141.9 539.0L142.8 538.6L143.6 538.7L144.5 539.2L145.3 539.7L146.1 540.0L146.8 540.0L147.7 539.6L148.5 539.0L149.1 538.4L149.7 537.8L150.3 537.4L151.1 537.0L152.1 536.7L153.4 536.4L154.0 536.2L154.6 535.9L155.3 535.6L156.0 535.3L156.7 535.1L157.5 535.0L158.2 535.0L159.1 535.2L159.9 535.3L160.7 535.3L161.6 535.1L162.5 534.9L163.3 534.8L164.2 534.6L165.1 534.6L166.0 534.6L166.9 534.6L167.7 534.5L168.6 534.3L169.4 534.0L170.2 533.8L171.0 533.6L171.9 533.6L172.7 533.7L173.5 533.8L174.4 534.0L175.2 534.3L176.1 534.7L176.9 535.1L177.7 535.4L178.6 535.4L179.4 535.2L180.2 534.9L181.1 534.6L181.9 534.4L182.7 534.2L183.6 533.9L184.4 533.8L185.2 533.8L186.1 534.0L186.9 534.3L187.7 534.6L188.5 534.7L189.3 534.5L190.1 534.2L190.9 533.8L191.7 533.5L192.5 533.3L193.3 533.3L194.1 533.3L194.9 533.3L195.6 533.3L196.4 533.2L197.2 533.1L198.0 532.9L198.8 532.8L199.6 532.5L200.4 532.3L201.2 532.0L202.0 531.7L202.8 531.4L203.6 531.0L204.4 530.6L205.3 530.2L206.1 530.1L207.0 530.3L207.8 530.6L208.7 531.0L209.5 531.2L210.4 531.5L211.2 531.7L212.1 531.9L212.9 531.9L213.8 531.9L214.6 531.7L215.4 531.5L216.3 531.3L217.1 531.4L217.9 531.5L218.7 531.7L219.5 531.9L220.3 532.1L221.2 532.3L222.0 532.4L222.8 532.5L223.7 532.5L224.5 532.3L225.3 532.0L226.1 531.7L226.9 531.5L227.7 531.7L228.4 532.0L229.2 532.5L230.0 532.9L230.8 533.1L231.6 533.3L232.5 533.4L233.3 533.4L234.1 533.4L235.0 533.3L235.8 533.2L236.6 533.1L237.4 533.0L238.2 533.0L239.0 533.0L239.9 533.0L240.7 533.0L241.5 532.9L242.4 532.8L243.2 532.8L244.1 532.7L244.9 532.8L245.8 533.1L246.6 533.4L247.5 533.5L248.3 533.5L249.2 533.1L250.0 532.6L250.9 532.2L251.7 531.9L252.5 531.8L253.4 531.8L254.2 531.8L255.0 531.9L255.9 532.0L256.7 532.2L257.5 532.4L258.4 532.5L259.2 532.4L260.1 532.1L260.9 531.8L261.7 531.6L262.6 531.4L263.4 531.3L264.2 531.2L265.1 531.2L265.9 531.2L266.7 531.3L267.6 531.4L268.4 531.6L269.2 531.8L270.1 532.0L270.9 532.3L271.7 532.5L272.6 532.6L273.4 532.7L274.2 532.8L275.0 532.7L275.9 532.6L276.7 532.3L277.5 531.9L278.3 531.4L279.2 531.0L280.0 530.8L280.8 530.6L281.7 530.5L282.5 530.5L283.3 530.6L284.2 530.9L285.0 531.3L285.8 531.6L286.6 531.8L287.4 531.9L288.2 532.0L289.0 532.0L289.8 532.0L290.6 532.1L291.4 532.1L292.2 532.2L293.0 532.3L293.8 532.4L294.7 532.6L295.5 532.8L296.3 532.9L297.1 533.1L297.9 533.3L298.7 533.5L299.5 533.6L300.3 533.7L301.1 533.6L301.9 533.5L302.7 533.2L303.6 533.1L304.5 533.0L305.4 533.2L306.2 533.3L307.1 533.4L308.0 533.3L308.9 532.9L309.8 532.5L310.7 532.2L311.6 532.1L312.4 532.0L313.3 532.0L314.1 532.0L314.9 532.1L315.7 532.3L316.5 532.6L317.2 532.8L317.9 533.0L318.6 533.1L319.7 533.1L320.7 533.1L321.6 533.0L322.4 532.9L323.2 532.7L324.0 532.6L324.8 532.4L325.5 532.2L326.3 532.0L327.0 531.8L327.8 531.7L328.6 531.5L329.4 531.5L330.3 531.4L331.1 531.4L332.0 531.3L332.8 531.3L333.6 531.3L334.5 531.3L335.3 531.1L336.2 530.7L337.0 530.1L337.9 529.4L338.7 528.9L339.6 528.6L340.5 528.7L341.5 528.8L342.4 529.0L343.4 529.0L344.4 529.2L345.3 529.2L346.2 529.2L347.0 529.2L347.7 529.1L348.3 529.0L348.8 528.9" stroke="#F2A450" stroke-width="1.05"/>
<path d="M52.3 653.6L52.6 652.8L53.0 651.5L53.3 651.6L53.6 649.7L54.0 649.1L54.3 649.0L54.7 648.0L55.0 646.6L55.3 644.7L55.7 643.5L56.0 642.8L56.3 642.8L56.7 642.6L57.0 640.8L57.3 640.1L57.7 641.5L58.0 638.2L58.4 640.0L58.7 640.3L59.0 638.1L59.4 637.5L59.7 637.6L60.0 639.0L60.4 637.6L60.7 635.0L61.0 636.5L61.4 638.1L61.7 637.7L62.0 636.9L62.4 635.4L62.7 633.0L63.1 635.3L63.4 634.5L63.7 634.6L64.1 636.2L64.4 634.1L64.7 633.9L65.1 634.0L65.4 632.6L65.7 631.8L66.1 631.4L66.4 633.0L66.8 632.4L67.1 630.8L67.4 632.6L67.8 631.1L68.1 628.8L68.4 631.1L68.8 629.8L69.1 628.0L69.4 630.1L69.8 628.7L70.1 628.4L70.5 629.4L70.8 625.5L71.1 626.4L71.5 627.2L71.8 627.9L72.1 626.4L72.5 625.7L72.8 625.4L73.1 626.4L73.5 627.1L73.8 624.1L74.1 623.0L74.5 625.1L74.8 624.8L75.2 623.8L75.5 625.6L75.8 632.3L76.2 623.6L76.5 623.7L76.8 624.6L77.2 623.1L77.5 621.6L77.8 623.1L78.2 621.8L78.5 623.2L78.9 621.9L79.2 622.1L79.5 622.8L79.9 621.8L80.2 620.9L80.5 620.2L80.9 623.6L81.2 622.6L81.5 619.0L81.9 619.4L82.2 621.4L82.6 619.7L82.9 620.3L83.2 621.1L83.6 620.1L83.9 619.6L84.2 619.0L84.6 619.3L84.9 619.8L85.2 621.4L85.6 620.4L85.9 618.6L86.2 619.9L86.6 618.7L86.9 616.5L87.3 618.2L87.6 619.5L87.9 617.3L88.3 619.2L88.6 617.4L88.9 617.8L89.3 616.1L89.6 620.2L89.9 617.3L90.3 618.6L90.6 616.6L91.0 615.1L91.3 618.5L91.6 615.9L92.0 618.9L92.3 616.4L92.6 618.6L93.0 615.5L93.3 614.0L93.6 617.1L94.0 616.0L94.3 616.0L94.7 617.2L95.0 614.6L95.3 614.0L95.7 612.9L96.0 613.3L96.3 613.1L96.7 613.7L97.0 614.0L97.3 614.6L97.7 613.6L98.0 614.9L98.3 615.9L98.7 614.5L99.0 615.2L99.4 613.4L99.7 614.8L100.0 614.9L100.4 613.3L100.7 612.1L101.0 613.7L101.4 613.9L101.7 615.7L102.0 613.3L102.4 614.8L102.7 611.0L103.1 613.9L103.4 613.8L103.7 614.2L104.1 614.3L104.4 615.2" stroke="#000" stroke-width="0.8"/>
<path d="M104.4 617.6L105.1 620.1L105.7 620.6L106.4 619.0L107.1 619.9L107.7 620.2L108.4 622.2L109.1 621.9L109.8 623.4L110.4 620.4L111.1 625.2L111.8 623.5L112.4 624.9L113.1 624.3L113.8 624.4L114.4 625.9L115.1 626.8L115.8 625.9L116.5 626.4L117.1 628.0L117.8 626.4L118.5 626.0L119.1 629.0L119.8 628.1L120.5 627.0L121.1 628.9L121.8 629.8L122.5 629.2L123.1 629.2L123.8 631.5L124.5 633.0L125.2 631.8L125.8 631.4L126.5 633.0L127.2 633.6L127.8 632.3L128.5 633.2L129.2 633.6L129.8 631.8L130.5 630.7L131.2 632.0L131.8 631.6L132.5 631.3L133.2 630.2L133.9 630.1L134.5 629.7L135.2 629.1L135.9 629.5L136.5 629.3L137.2 628.5L137.9 629.0L138.5 628.5L139.2 628.2L139.9 627.8L140.6 627.8L141.2 626.7L141.9 627.1L142.6 626.9L143.2 625.8L143.9 626.3L144.6 625.8L145.2 626.0L145.9 625.3L146.6 625.2L147.2 625.1L147.9 624.4L148.6 624.7L149.3 624.2L149.9 624.2L150.6 623.6L151.3 624.0L151.9 623.6L152.6 623.1L153.3 623.2L153.9 623.2L154.6 623.1L155.3 621.7L155.9 622.4L156.6 622.0L157.3 621.6L158.0 621.1L158.6 621.7L159.3 620.6L160.0 621.0L160.6 621.1L161.3 619.9L162.0 620.1L162.6 619.6L163.3 619.9L164.0 620.2L164.7 620.2L165.3 618.7L166.0 618.9L166.7 619.2L167.3 619.3L168.0 618.8L168.7 618.2L169.3 618.4L170.0 618.1L170.7 617.9L171.3 617.6L172.0 617.8L172.7 617.7L173.4 617.4L174.0 617.2L174.7 616.7L175.4 616.9L176.0 617.3L176.7 616.7L177.4 616.2L178.0 617.0L178.7 616.6L179.4 617.1L180.1 616.2L180.7 616.0L181.4 615.5L182.1 616.4L182.7 616.7L183.4 615.4L184.1 615.4L184.7 615.7L185.4 615.1L186.1 615.2L186.7 615.1L187.4 615.2L188.1 615.5L188.8 615.0L189.4 615.2L190.1 614.7L190.8 614.9L191.4 614.0L192.1 614.1L192.8 614.9L193.4 614.3L194.1 614.7L194.8 614.6L195.4 614.8L196.1 614.6L196.8 614.6L197.5 614.2L198.1 613.9L198.8 613.9L199.5 614.0L200.1 613.7L200.8 613.9L201.5 614.0L202.1 614.1L202.8 613.9L203.5 613.3L204.2 613.9L204.8 614.0L205.5 614.3L206.2 614.1L206.8 613.7L207.5 613.6L208.2 614.6L208.8 614.1L209.5 614.5L210.2 614.6L210.8 613.5L211.5 613.9L212.2 614.0L212.9 614.0L213.5 614.0L214.2 613.9L214.9 613.9L215.5 613.3L216.2 613.8L216.9 613.6L217.5 613.9L218.2 613.7L218.9 614.1L219.5 614.2L220.2 614.1L220.9 614.1L221.6 614.1L222.2 614.0L222.9 614.1L223.6 614.0L224.2 614.4L224.9 614.3L225.6 614.6L226.2 614.0L226.9 614.8L227.6 614.3L228.3 614.3L228.9 614.6L229.6 614.5L230.3 614.9L230.9 614.6L231.6 614.5L232.3 614.7L232.9 615.5L233.6 615.1L234.3 614.8L234.9 615.2L235.6 614.8L236.3 616.0L237.0 614.9L237.6 615.7L238.3 615.8L239.0 615.2L239.6 615.9L240.3 616.2L241.0 616.1L241.6 616.1L242.3 616.5L243.0 616.3L243.7 616.5L244.3 616.4L245.0 616.8L245.7 616.4L246.3 617.2L247.0 616.9L247.7 616.8L248.3 617.5L249.0 618.1L249.7 617.9L250.3 617.5L251.0 618.0L251.7 617.7L252.4 617.9L253.0 618.1L253.7 617.4L254.4 618.3L255.0 618.0L255.7 618.2L256.4 618.0L257.0 618.1L257.7 618.3L258.4 619.0L259.0 619.4L259.7 618.9L260.4 619.4L261.1 619.0L261.7 618.5L262.4 619.3L263.1 619.4L263.7 619.2L264.4 619.5L265.1 619.7L265.7 619.3L266.4 619.1L267.1 619.6L267.8 619.7L268.4 619.7L269.1 620.2L269.8 620.5L270.4 619.6L271.1 620.6L271.8 620.8L272.4 620.6L273.1 620.9L273.8 619.7L274.4 620.7L275.1 621.8L275.8 620.7L276.5 619.5L277.1 620.6L277.8 621.2L278.5 620.4L279.1 619.7L279.8 621.6L280.5 619.3L281.1 621.0L281.8 620.7L282.5 619.8L283.2 622.0L283.8 621.3L284.5 620.0L285.2 621.6L285.8 620.7L286.5 619.4L287.2 620.5L287.8 621.4L288.5 621.7L289.2 621.3L289.8 621.2L290.5 621.6L291.2 621.0L291.9 622.2L292.5 621.3L293.2 621.4L293.9 621.6L294.5 620.2L295.2 620.5L295.9 622.5L296.5 621.4L297.2 620.8L297.9 621.4L298.5 620.6L299.2 621.3L299.9 620.4L300.6 621.3L301.2 619.6L301.9 622.2L302.6 620.5L303.2 619.6L303.9 620.8L304.6 620.6L305.2 621.1L305.9 619.9L306.6 621.3L307.3 623.6L307.9 619.8L308.6 621.2L309.3 620.6L309.9 621.1L310.6 619.2L311.3 619.8L311.9 621.3L312.6 620.8L313.3 622.3L313.9 620.2L314.6 620.9L315.3 623.4L316.0 620.0L316.6 619.8L317.3 620.6L318.0 620.5L318.6 621.3L319.3 620.5L320.0 619.7L320.6 620.4L321.3 622.5L322.0 621.1L322.6 617.3L323.3 619.5L324.0 618.7L324.7 619.9L325.3 619.1L326.0 619.6L326.7 619.1L327.3 618.9L328.0 618.6L328.7 618.4L329.3 618.4L330.0 618.7L330.7 618.4L331.4 618.1L332.0 618.7L332.7 618.4L333.4 618.3L334.0 618.1L334.7 618.2" stroke="#000" stroke-width="0.8"/>
<path d="M104.4 618.1L104.7 620.1L104.9 615.4L105.2 620.9L105.4 618.6L105.7 617.7L105.9 618.0L106.2 617.8L106.4 619.4L106.7 621.2L106.9 621.1L107.2 621.4L107.4 618.1L107.7 618.5L108.0 623.4L108.2 622.8L108.5 624.8L108.7 623.5L109.0 620.3L109.2 624.0L109.5 623.1L109.7 622.7L110.0 621.3L110.2 622.7L110.5 622.6L110.7 624.3L111.0 623.3L111.2 625.7L111.5 622.3L111.8 624.3L112.0 624.5L112.3 622.6L112.5 622.3L112.8 625.7L113.0 625.2L113.3 624.3L113.5 625.3L113.8 623.9L114.0 625.4L114.3 624.3L114.5 625.7L114.8 627.0L115.1 625.2L115.3 627.1L115.6 624.5L115.8 625.8L116.1 624.3L116.3 626.4L116.6 626.8L116.8 626.6L117.1 626.6L117.3 629.2L117.6 629.5L117.8 625.7L118.1 629.5L118.3 625.3L118.6 627.0L118.9 628.0L119.1 628.6L119.4 627.1L119.6 627.8L119.9 629.1L120.1 628.2L120.4 628.5L120.6 630.6L120.9 631.2L121.1 629.9L121.4 630.2L121.6 630.3L121.9 629.8L122.2 629.8L122.4 629.2L122.7 631.8L122.9 630.9L123.2 630.9L123.4 631.6L123.7 632.2L123.9 633.7L124.2 631.2L124.4 631.2L124.7 632.2L124.9 630.7L125.2 634.0L125.4 633.6L125.7 633.3L126.0 632.2L126.2 633.5L126.5 634.1L126.7 633.3L127.0 632.2L127.2 630.1L127.5 634.1L127.7 632.1L128.0 631.4L128.2 633.9L128.5 633.0L128.7 630.3L129.0 632.2" stroke="#000" stroke-width="0.6"/>
<path d="M38.2 671.5L38.7 671.1L39.5 670.5L40.5 669.5L40.9 669.0L41.3 668.5L41.8 667.9L42.3 667.2L42.8 666.5L43.3 665.8L43.8 665.0L44.3 664.3L44.7 663.6L45.1 663.0L45.5 662.3L45.9 661.5L46.2 660.8L46.6 660.0L47.1 659.2L47.5 658.4L48.0 657.5L48.4 656.8L48.7 656.1L49.1 655.4L49.5 654.6L49.9 653.8L50.4 653.0L50.8 652.2L51.2 651.4L51.7 650.7L52.1 649.9L52.5 649.2L53.0 648.5L53.4 647.8L53.9 647.0L54.5 646.3L55.0 645.6L55.5 645.0L56.0 644.3L56.6 643.7L57.1 643.1L57.7 642.5L58.3 641.9L58.9 641.2L59.4 640.6L60.0 640.0L60.5 639.4L61.1 638.8L61.7 638.2L62.3 637.6L62.9 637.0L63.5 636.4L64.1 635.8L64.8 635.2L65.4 634.6L66.1 634.0L66.7 633.5L67.3 632.9L67.9 632.4L68.6 631.9L69.2 631.3L69.9 630.8L70.5 630.2L71.2 629.7L71.9 629.2L72.6 628.7L73.2 628.1L73.9 627.6L74.5 627.2L75.2 626.7L75.9 626.2L76.6 625.7L77.3 625.3L78.0 624.8L78.7 624.4L79.4 623.9L80.0 623.5L80.7 623.1L81.4 622.7L82.1 622.3L82.8 622.0L83.5 621.6L84.2 621.3L85.0 620.9L85.9 620.6L86.8 620.3L87.7 620.0L88.5 619.7L89.4 619.5L90.3 619.3L91.1 619.1L91.9 618.9L92.6 618.7L93.3 618.6L94.4 618.4L95.4 618.4L96.3 618.4L97.1 618.4L97.9 618.5L98.7 618.6L99.6 618.7L100.5 618.8L101.4 618.9L102.3 619.1L103.2 619.4L103.9 619.7L104.6 620.0L105.3 620.4L106.0 620.8L106.8 621.2L107.5 621.7L108.2 622.1L108.9 622.5L109.6 623.0L110.3 623.4L111.1 623.9L111.8 624.4L112.5 624.8L113.2 625.3L113.9 625.8L114.7 626.2L115.4 626.7L116.1 627.2L116.9 627.6L117.5 628.1L118.2 628.5L119.0 629.1L119.8 629.6L120.5 630.1L121.2 630.5L122.0 631.0L122.7 631.4L123.5 631.8L124.3 632.2L125.0 632.5L125.8 632.8L126.5 633.0L127.4 633.1L128.1 632.9L128.9 632.7L130.0 632.4L130.7 632.3L131.4 632.1L132.1 632.0L132.9 631.8L133.8 631.6L134.7 631.3L135.7 631.1L136.7 630.8L137.4 630.6L138.0 630.4L138.7 630.2L139.5 629.9L140.2 629.7L141.0 629.4L141.7 629.2L142.5 628.9L143.3 628.6L144.2 628.3L145.0 628.0L145.9 627.7L146.8 627.4L147.5 627.2L148.2 626.9L149.0 626.6L149.7 626.4L150.5 626.1L151.3 625.8L152.0 625.5L152.8 625.2L153.6 624.9L154.5 624.6L155.3 624.3L156.1 624.0L156.9 623.8L157.7 623.5L158.5 623.2L159.3 622.9L160.1 622.7L160.9 622.5L161.7 622.2L162.5 622.0L163.2 621.8L164.0 621.5L164.8 621.3L165.6 621.1L166.4 620.9L167.2 620.7L168.0 620.4L168.8 620.2L169.6 620.0L170.3 619.8L171.1 619.6L171.9 619.5L172.7 619.3L173.5 619.1L174.3 618.9L175.1 618.8L175.9 618.6L176.7 618.4L177.4 618.3L178.2 618.1L179.0 618.0L179.8 617.8L180.6 617.7L181.4 617.5L182.2 617.4L183.0 617.3L183.7 617.1L184.5 617.0L185.3 616.9L186.1 616.8L186.9 616.7L187.7 616.6L188.6 616.5L189.4 616.4L190.3 616.3L191.1 616.3L191.9 616.2L192.8 616.1L193.6 616.1L194.4 616.0L195.3 615.9L196.1 615.9L197.0 615.8L197.8 615.8L198.6 615.8L199.5 615.7L200.3 615.7L201.1 615.7L202.0 615.6L202.8 615.6L203.6 615.6L204.5 615.6L205.3 615.6L206.1 615.6L207.0 615.6L207.8 615.6L208.6 615.6L209.4 615.6L210.3 615.6L211.1 615.6L211.9 615.6L212.8 615.7L213.6 615.7L214.4 615.7L215.3 615.8L216.1 615.8L217.0 615.9L217.8 615.9L218.6 616.0L219.5 616.1L220.3 616.1L221.2 616.2L222.0 616.3L222.8 616.4L223.7 616.4L224.5 616.5L225.3 616.6L226.2 616.6L227.0 616.7L227.8 616.8L228.7 616.8L229.5 616.9L230.3 616.9L231.1 617.0L232.0 617.0L232.8 617.1L233.6 617.1L234.4 617.2L235.2 617.2L236.0 617.3L236.9 617.3L237.6 617.4L238.4 617.5L239.2 617.5L240.0 617.6L240.9 617.7L241.7 617.8L242.5 617.9L243.3 618.0L244.1 618.1L244.8 618.2L245.6 618.3L246.4 618.4L247.2 618.6L248.0 618.7L248.9 618.8L249.8 618.9L250.7 619.0L251.7 619.1L252.4 619.2L253.2 619.2L253.9 619.3L254.7 619.4L255.5 619.5L256.3 619.5L257.2 619.6L258.0 619.7L258.9 619.7L259.7 619.8L260.6 619.9L261.5 620.0L262.3 620.0L263.2 620.1L264.1 620.1L265.0 620.2L265.8 620.3L266.7 620.3L267.6 620.4L268.4 620.4L269.2 620.4L270.0 620.5L270.8 620.5L271.6 620.5L272.4 620.6L273.2 620.6L274.0 620.6L274.8 620.7L275.6 620.7L276.4 620.7L277.2 620.7L278.0 620.8L278.8 620.8L279.6 620.8L280.4 620.8L281.2 620.8L282.0 620.8L282.8 620.8L283.6 620.8L284.4 620.8L285.2 620.8L286.0 620.8L286.9 620.8L287.7 620.8L288.5 620.7L289.4 620.7L290.2 620.7L291.1 620.6L291.9 620.6L292.7 620.6L293.6 620.5L294.4 620.5L295.2 620.5L296.1 620.4L296.9 620.4L297.7 620.3L298.6 620.3L299.4 620.2L300.2 620.2L301.1 620.1L301.9 620.1L302.7 620.1L303.6 620.0L304.4 620.0L305.2 619.9L306.1 619.9L306.9 619.8L307.7 619.8L308.6 619.7L309.4 619.7L310.2 619.6L311.1 619.6L311.9 619.5L312.8 619.5L313.6 619.4L314.4 619.4L315.3 619.3L316.1 619.3L316.9 619.2L317.8 619.2L318.6 619.1L319.4 619.1L320.3 619.0L321.1 619.0L322.0 618.9L322.9 618.9L323.7 618.8L324.6 618.8L325.4 618.7L326.3 618.7L327.2 618.6L328.0 618.6L328.9 618.5L329.7 618.5L330.5 618.4L331.4 618.4L332.2 618.3L333.0 618.3L333.8 618.2L334.5 618.2L335.3 618.1L336.3 618.0L337.2 617.9L338.2 617.8L339.2 617.7L340.2 617.6L341.2 617.5L342.2 617.4L343.1 617.3L344.0 617.2L344.9 617.1L345.7 617.0L346.4 616.9L347.1 616.8L347.8 616.7L348.3 616.7L348.8 616.6" stroke="#F2A450" stroke-width="1.05"/>
</g>
<g fill="none">
<path d="M38 0 V716" stroke="#7c7c7c" stroke-width="1.9"/>
<path d="M349 0 V716" stroke="#808080" stroke-width="1.8"/>
<path d="M38.2 0.5 H348.8 M38.2 715.5 H348.8" stroke="#333" stroke-width="1.3"/>
<path d="M38.20 715.5 v-7.0 M38.20 0.5 v7.0 M52.32 715.5 v-7.0 M52.32 0.5 v7.0 M66.44 715.5 v-14.0 M66.44 0.5 v14.0 M80.56 715.5 v-7.0 M80.56 0.5 v7.0 M94.68 715.5 v-7.0 M94.68 0.5 v7.0 M108.80 715.5 v-7.0 M108.80 0.5 v7.0 M122.92 715.5 v-7.0 M122.92 0.5 v7.0 M137.04 715.5 v-14.0 M137.04 0.5 v14.0 M151.16 715.5 v-7.0 M151.16 0.5 v7.0 M165.28 715.5 v-7.0 M165.28 0.5 v7.0 M179.40 715.5 v-7.0 M179.40 0.5 v7.0 M193.52 715.5 v-7.0 M193.52 0.5 v7.0 M207.64 715.5 v-14.0 M207.64 0.5 v14.0 M221.76 715.5 v-7.0 M221.76 0.5 v7.0 M235.88 715.5 v-7.0 M235.88 0.5 v7.0 M250.00 715.5 v-7.0 M250.00 0.5 v7.0 M264.12 715.5 v-7.0 M264.12 0.5 v7.0 M278.24 715.5 v-14.0 M278.24 0.5 v14.0 M292.36 715.5 v-7.0 M292.36 0.5 v7.0 M306.48 715.5 v-7.0 M306.48 0.5 v7.0 M320.60 715.5 v-7.0 M320.60 0.5 v7.0 M334.72 715.5 v-7.0 M334.72 0.5 v7.0 M348.84 715.5 v-14.0 M348.84 0.5 v14.0 M38.2 715.50 h6.0 M348.8 715.50 h-6.0 M38.2 670.81 h3.0 M348.8 670.81 h-3.0 M38.2 626.12 h6.0 M348.8 626.12 h-6.0 M38.2 581.44 h3.0 M348.8 581.44 h-3.0 M38.2 536.75 h6.0 M348.8 536.75 h-6.0 M38.2 492.06 h3.0 M348.8 492.06 h-3.0 M38.2 447.38 h6.0 M348.8 447.38 h-6.0 M38.2 402.69 h3.0 M348.8 402.69 h-3.0 M38.2 358.00 h6.0 M348.8 358.00 h-6.0 M38.2 313.31 h3.0 M348.8 313.31 h-3.0 M38.2 268.62 h6.0 M348.8 268.62 h-6.0 M38.2 223.94 h3.0 M348.8 223.94 h-3.0 M38.2 179.25 h6.0 M348.8 179.25 h-6.0 M38.2 134.56 h3.0 M348.8 134.56 h-3.0 M38.2 89.88 h6.0 M348.8 89.88 h-6.0 M38.2 45.19 h3.0 M348.8 45.19 h-3.0 M38.2 0.50 h6.0 M348.8 0.50 h-6.0 " stroke="#555" stroke-width="1.3"/>
</g>
<g fill="#222">
<text x="28.6" y="715.5" font-size="14" text-anchor="middle" fill="#3a3a3a" font-family="Liberation Sans, sans-serif">0</text>
<text x="28.6" y="631.0" font-size="14" text-anchor="middle" fill="#3a3a3a" font-family="Liberation Sans, sans-serif">1</text>
<text x="28.6" y="541.6" font-size="14" text-anchor="middle" fill="#3a3a3a" font-family="Liberation Sans, sans-serif">2</text>
<text x="28.6" y="452.3" font-size="14" text-anchor="middle" fill="#3a3a3a" font-family="Liberation Sans, sans-serif">3</text>
<text x="28.6" y="362.9" font-size="14" text-anchor="middle" fill="#3a3a3a" font-family="Liberation Sans, sans-serif">4</text>
<text x="28.6" y="273.5" font-size="14" text-anchor="middle" fill="#3a3a3a" font-family="Liberation Sans, sans-serif">5</text>
<text x="28.6" y="184.2" font-size="14" text-anchor="middle" fill="#3a3a3a" font-family="Liberation Sans, sans-serif">6</text>
<text x="28.6" y="94.8" font-size="14" text-anchor="middle" fill="#3a3a3a" font-family="Liberation Sans, sans-serif">7</text>
<text x="28.6" y="10.9" font-size="14" text-anchor="middle" fill="#3a3a3a" font-family="Liberation Sans, sans-serif">8</text>
<text x="66.4" y="736.6" font-size="14" text-anchor="middle" textLength="21.3" lengthAdjust="spacing" fill="#3a3a3a" font-family="Liberation Sans, sans-serif">0.5</text>
<text x="137.0" y="736.6" font-size="14" text-anchor="middle" textLength="21.3" lengthAdjust="spacing" fill="#3a3a3a" font-family="Liberation Sans, sans-serif">1.0</text>
<text x="207.6" y="736.6" font-size="14" text-anchor="middle" textLength="21.3" lengthAdjust="spacing" fill="#3a3a3a" font-family="Liberation Sans, sans-serif">1.5</text>
<text x="278.2" y="736.6" font-size="14" text-anchor="middle" textLength="21.3" lengthAdjust="spacing" fill="#3a3a3a" font-family="Liberation Sans, sans-serif">2.0</text>
<text x="348.8" y="736.6" font-size="14" text-anchor="middle" textLength="21.3" lengthAdjust="spacing" fill="#3a3a3a" font-family="Liberation Sans, sans-serif">2.5</text>
<text x="193.5" y="755" font-size="14" text-anchor="middle" textLength="157" lengthAdjust="spacing" fill="#3a3a3a" font-family="Liberation Sans, sans-serif">Wavelength (microns)</text>
<text transform="translate(11.2,358) rotate(-90)" x="0" y="0" font-size="14" text-anchor="middle" textLength="256" lengthAdjust="spacing" fill="#3a3a3a" font-family="Liberation Sans, sans-serif">Normalized and Offset Reflectance</text>
<text x="179.7" y="99.2" font-size="12" fill="#000" textLength="28.9" lengthAdjust="spacingAndGlyphs" font-family="Liberation Sans, sans-serif">2012</text>
<text x="215.3" y="99.2" font-size="12" fill="#000" textLength="27.3" lengthAdjust="spacingAndGlyphs" font-family="Liberation Sans, sans-serif">VF37</text>
<text x="179.7" y="112.6" font-size="12" fill="#EB912D" textLength="19.2" lengthAdjust="spacingAndGlyphs" font-family="Liberation Sans, sans-serif">LL4</text>
<text x="205.3" y="112.6" font-size="12" fill="#EB912D" textLength="69.9" lengthAdjust="spacingAndGlyphs" font-family="Liberation Sans, sans-serif">Soko–Banja</text>
<text x="179.7" y="126.0" font-size="12" fill="#28A546" textLength="12.5" lengthAdjust="spacingAndGlyphs" font-family="Liberation Sans, sans-serif">L5</text>
<text x="199.4" y="126.0" font-size="12" fill="#28A546" textLength="51.0" lengthAdjust="spacingAndGlyphs" font-family="Liberation Sans, sans-serif">Knyahina</text>
<text x="179.7" y="139.3" font-size="12" fill="#2A5A96" textLength="15.0" lengthAdjust="spacingAndGlyphs" font-family="Liberation Sans, sans-serif">H4</text>
<text x="201.0" y="139.3" font-size="12" fill="#2A5A96" textLength="23.9" lengthAdjust="spacingAndGlyphs" font-family="Liberation Sans, sans-serif">Sete</text>
<text x="231.6" y="139.3" font-size="12" fill="#2A5A96" textLength="40.9" lengthAdjust="spacingAndGlyphs" font-family="Liberation Sans, sans-serif">Lagoas</text>
<text x="179.4" y="197.2" font-size="12" fill="#000" textLength="28.7" lengthAdjust="spacingAndGlyphs" font-family="Liberation Sans, sans-serif">2010</text>
<text x="215.5" y="197.2" font-size="12" fill="#000" textLength="14.8" lengthAdjust="spacingAndGlyphs" font-family="Liberation Sans, sans-serif">BB</text>
<text x="179.4" y="210.9" font-size="12" fill="#EB912D" textLength="15.8" lengthAdjust="spacingAndGlyphs" font-family="Liberation Sans, sans-serif">H5</text>
<text x="202.1" y="210.9" font-size="12" fill="#EB912D" textLength="31.9" lengthAdjust="spacingAndGlyphs" font-family="Liberation Sans, sans-serif">Nuevo</text>
<text x="242.6" y="210.9" font-size="12" fill="#EB912D" textLength="48.3" lengthAdjust="spacingAndGlyphs" font-family="Liberation Sans, sans-serif">Mercurio</text>
<text x="179.4" y="287.2" font-size="12" fill="#000" textLength="28.4" lengthAdjust="spacingAndGlyphs" font-family="Liberation Sans, sans-serif">2004</text>
<text x="215.0" y="287.2" font-size="12" fill="#000" textLength="19.5" lengthAdjust="spacingAndGlyphs" font-family="Liberation Sans, sans-serif">TP1</text>
<text x="179.4" y="300.6" font-size="12" fill="#EB912D" textLength="19.2" lengthAdjust="spacingAndGlyphs" font-family="Liberation Sans, sans-serif">LL6</text>
<text x="205.5" y="300.6" font-size="12" fill="#EB912D" textLength="32.0" lengthAdjust="spacingAndGlyphs" font-family="Liberation Sans, sans-serif">Jelica</text>
<text x="179.4" y="376.7" font-size="12" fill="#000" textLength="28.4" lengthAdjust="spacingAndGlyphs" font-family="Liberation Sans, sans-serif">2004</text>
<text x="215.0" y="376.7" font-size="12" fill="#000" textLength="30.2" lengthAdjust="spacingAndGlyphs" font-family="Liberation Sans, sans-serif">RQ10</text>
<text x="179.4" y="389.8" font-size="12" fill="#EB912D" textLength="19.2" lengthAdjust="spacingAndGlyphs" font-family="Liberation Sans, sans-serif">LL6</text>
<text x="205.8" y="389.8" font-size="12" fill="#EB912D" textLength="61.2" lengthAdjust="spacingAndGlyphs" font-family="Liberation Sans, sans-serif">Manbhoom</text>
<text x="180.6" y="456.7" font-size="12" fill="#000" textLength="26.6" lengthAdjust="spacingAndGlyphs" font-family="Liberation Sans, sans-serif">1994</text>
<text x="214.7" y="456.7" font-size="12" fill="#000" textLength="14.9" lengthAdjust="spacingAndGlyphs" font-family="Liberation Sans, sans-serif">XD</text>
<text x="179.6" y="470.0" font-size="12" fill="#EB912D" textLength="15.5" lengthAdjust="spacingAndGlyphs" font-family="Liberation Sans, sans-serif">H5</text>
<text x="201.0" y="470.0" font-size="12" fill="#EB912D" textLength="42.8" lengthAdjust="spacingAndGlyphs" font-family="Liberation Sans, sans-serif">Barwise</text>
<text x="179.4" y="555.3" font-size="12" fill="#000" textLength="53.5" lengthAdjust="spacingAndGlyphs" font-family="Liberation Sans, sans-serif">(350751)</text>
<text x="240.4" y="555.3" font-size="12" fill="#000" textLength="28.6" lengthAdjust="spacingAndGlyphs" font-family="Liberation Sans, sans-serif">2002</text>
<text x="276.5" y="555.3" font-size="12" fill="#000" textLength="14.9" lengthAdjust="spacingAndGlyphs" font-family="Liberation Sans, sans-serif">AW</text>
<text x="179.4" y="567.6" font-size="12" fill="#EB912D" textLength="23.0" lengthAdjust="spacingAndGlyphs" font-family="Liberation Sans, sans-serif">CM2</text>
<text x="210.0" y="567.6" font-size="12" fill="#EB912D" textLength="22.9" lengthAdjust="spacingAndGlyphs" font-family="Liberation Sans, sans-serif">Cold</text>
<text x="240.4" y="567.6" font-size="12" fill="#EB912D" textLength="55.9" lengthAdjust="spacingAndGlyphs" font-family="Liberation Sans, sans-serif">Bokkeveld</text>
<text x="179.4" y="644.9" font-size="12" fill="#000" textLength="53.8" lengthAdjust="spacingAndGlyphs" font-family="Liberation Sans, sans-serif">(214869)</text>
<text x="240.7" y="644.9" font-size="12" fill="#000" textLength="28.3" lengthAdjust="spacingAndGlyphs" font-family="Liberation Sans, sans-serif">2007</text>
<text x="275.8" y="644.9" font-size="12" fill="#000" textLength="19.9" lengthAdjust="spacingAndGlyphs" font-family="Liberation Sans, sans-serif">PA8</text>
<text x="179.4" y="657.6" font-size="12" fill="#EB912D" textLength="13.3" lengthAdjust="spacingAndGlyphs" font-family="Liberation Sans, sans-serif">L3</text>
<text x="199.1" y="657.6" font-size="12" fill="#EB912D" textLength="85.4" lengthAdjust="spacingAndGlyphs" font-family="Liberation Sans, sans-serif">Mezo–Madaras</text>
</g>
</svg>
</body></html>
